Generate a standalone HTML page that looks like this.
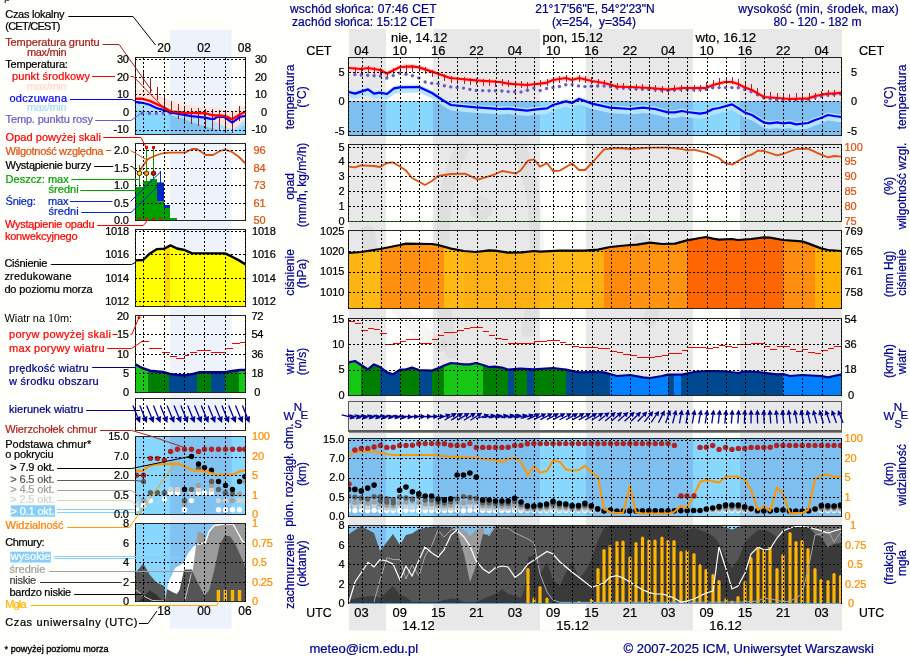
<!DOCTYPE html>
<html lang="pl"><head><meta charset="utf-8"><title>Meteogram ICM</title>
<style>html,body{margin:0;padding:0;background:#FEFEFA;overflow:hidden}svg{display:block}text{font-family:"Liberation Sans", sans-serif;}</style></head><body>
<svg width="910" height="660" viewBox="0 0 910 660">
<rect x="0" y="0" width="910" height="660" fill="#FEFEFA" />
<rect x="170" y="30" width="61.6" height="598.6" fill="#EEF3FB" />
<clipPath id="sT"><rect x="135" y="57.6" width="110.6" height="76.4"/></clipPath>
<g clip-path="url(#sT)">
<polygon points="135,100.9 142.5,101.8 149.8,103.8 156.4,107 163.6,109 170.6,111.4 177.5,112.7 191.5,115.2 198.5,115.9 205.5,116.6 210.5,117.9 214.4,117.9 217.7,115.6 223.7,115.9 227.6,118.3 232.2,121.6 240.6,115.6 246,115 246,124 240.6,127.2 232.2,132.5 226.6,131.2 219.4,129.8 212.5,128.5 205.5,126.5 198.5,124.6 191.5,122 184.5,119.3 177.5,117.3 170.6,115.3 163.6,114 156.4,113.3 150,112 142.5,110 135,108" fill="#AEE2FF" />
<clipPath id="sTb"><polygon points="135,108 142.5,110 150,112 156.4,113.3 163.6,114 170.6,115.3 177.5,117.3 184.5,119.3 191.5,122 198.5,124.6 205.5,126.5 212.5,128.5 219.4,129.8 226.6,131.2 232.2,132.5 240.6,127.2 246,124 245.6,134 135,134"/></clipPath>
<g clip-path="url(#sTb)">
<rect x="135" y="57.6" width="110.6" height="76.4" fill="#87D7FF" />
<rect x="170" y="57.6" width="61.6" height="76.4" fill="#80C3F0" />
</g>
<polygon points="135,88.3 142.5,90.3 149.8,93.6 163.6,97.5 177.5,102.8 191.5,105.4 212.5,108 226.6,110 232.2,110.7 240.6,106.7 246,105.4 246,118 238,125.9 232.2,129.2 226.6,127.2 219.4,123.2 205.5,118 184.5,113.5 163.6,108 135,100" fill="#FFE4DC" />
<line x1="141" y1="113.3" x2="173" y2="113.3" stroke="#6A5ACD" stroke-width="3" stroke-dasharray="3 3.9"/>
<g stroke="#A01818" stroke-width="1" shape-rendering="crispEdges">
<line x1="143.5" y1="70" x2="143.5" y2="85"/>
<line x1="150.5" y1="78" x2="150.5" y2="93"/>
<line x1="157.5" y1="87" x2="157.5" y2="99.5"/>
<line x1="164.5" y1="96" x2="164.5" y2="107.5"/>
<line x1="171.5" y1="101" x2="171.5" y2="114"/>
<line x1="178.5" y1="103.5" x2="178.5" y2="118.5"/>
<line x1="184.5" y1="105.5" x2="184.5" y2="122"/>
<line x1="191.5" y1="107.5" x2="191.5" y2="124"/>
<line x1="198.5" y1="108" x2="198.5" y2="126"/>
<line x1="205.5" y1="108.7" x2="205.5" y2="129"/>
<line x1="212.5" y1="109.4" x2="212.5" y2="130"/>
<line x1="219.5" y1="110" x2="219.5" y2="131"/>
<line x1="225.5" y1="110.7" x2="225.5" y2="133"/>
<line x1="232.5" y1="111.4" x2="232.5" y2="132.7"/>
<line x1="239.5" y1="106" x2="239.5" y2="120.6"/>
</g>
<polyline points="135,101.9 142.5,102.8 149.8,104.8 156.4,108 163.6,110 170.6,112.4 177.5,113.7 191.5,116.2 198.5,116.9 205.5,117.6 210.5,118.9 214.4,118.9 217.7,116.6 223.7,116.9 227.6,119.3 232.2,122.6 240.6,116.6 246,116" fill="none" stroke="#0000FF" stroke-width="2.2" stroke-linejoin="round"/>
<polyline points="135,98.8 142.5,98.8 149.8,100.8 163.6,107.4 170.6,111.4 184.5,112.7 205.5,113.3 212.5,115.3 222.3,115.7 226.6,116.6 232.2,119.3 240.6,114 246,111.6" fill="none" stroke="#FF0000" stroke-width="2.4" stroke-linejoin="round"/>
<g stroke="#000" stroke-width="1" stroke-dasharray="2 2" shape-rendering="crispEdges">
<line x1="143.5" y1="57.6" x2="143.5" y2="134"/>
<line x1="164.5" y1="57.6" x2="164.5" y2="134"/>
<line x1="184.5" y1="57.6" x2="184.5" y2="134"/>
<line x1="204.5" y1="57.6" x2="204.5" y2="134"/>
<line x1="225.5" y1="57.6" x2="225.5" y2="134"/>
<line x1="135" y1="59.5" x2="245.6" y2="59.5"/>
<line x1="135" y1="77.5" x2="245.6" y2="77.5"/>
<line x1="135" y1="94.5" x2="245.6" y2="94.5"/>
<line x1="135" y1="111.5" x2="245.6" y2="111.5"/>
<line x1="135" y1="130.5" x2="245.6" y2="130.5"/>
</g>
</g>
<rect x="135.5" y="57.5" width="110" height="77" fill="none" stroke="#262626" stroke-width="1" shape-rendering="crispEdges"/>
<g stroke="#000" stroke-width="1" stroke-dasharray="2 2" shape-rendering="crispEdges">
<line x1="135.5" y1="57.5" x2="135.5" y2="134.5"/>
<line x1="245.5" y1="57.5" x2="245.5" y2="134.5"/>
</g>
<clipPath id="sP"><rect x="135" y="143.6" width="110.6" height="76.4"/></clipPath>
<g clip-path="url(#sP)">
<rect x="136" y="187" width="7" height="33" fill="#00A000" />
<rect x="143" y="181" width="7" height="39" fill="#00A000" />
<rect x="150" y="179" width="7" height="41" fill="#00A000" />
<rect x="157" y="201.6" width="7" height="18.4" fill="#00A000" />
<rect x="157" y="182.4" width="7" height="19.2" fill="#0028C8" />
<rect x="164" y="208" width="6" height="12" fill="#00A000" />
<rect x="164" y="205" width="6" height="3" fill="#0028C8" />
<rect x="170" y="218" width="7" height="2" fill="#00A000" />
<g shape-rendering="crispEdges">
<line x1="139.5" y1="165" x2="139.5" y2="187" stroke="#00A000" stroke-width="1" />
<line x1="146.5" y1="148" x2="146.5" y2="181" stroke="#00A000" stroke-width="1" />
<line x1="153.5" y1="148" x2="153.5" y2="179" stroke="#00A000" stroke-width="1" />
<line x1="160.5" y1="171" x2="160.5" y2="183" stroke="#0028C8" stroke-width="1" />
</g>
<polyline points="139,172 143,166 147,160 150,158 157,155 164,153 171,152.6 185,152.6 192,149 197,149 206,155 213,155 220,151 225,149.6 232,152 239,157 246,164" fill="none" stroke="#E0500F" stroke-width="1.8" stroke-linejoin="round"/>
<rect x="145" y="146" width="3" height="3" fill="#FF0000" />
<rect x="152" y="146" width="3" height="3" fill="#FF0000" />
<circle cx="139.5" cy="173.3" r="2.3" fill="#FFE600" stroke="#3C1E00" stroke-width="0.9"/>
<circle cx="146.5" cy="173.3" r="2.3" fill="#FFA000" stroke="#3C1E00" stroke-width="0.9"/>
<circle cx="153.5" cy="173.3" r="2.3" fill="#E60000" stroke="#3C1E00" stroke-width="0.9"/>
<line x1="138" y1="218.6" x2="164" y2="218.6" stroke="#FF0000" stroke-width="1.6" stroke-dasharray="3 4"/>
<g stroke="#000" stroke-width="1" stroke-dasharray="2 2" shape-rendering="crispEdges">
<line x1="143.5" y1="143.6" x2="143.5" y2="220"/>
<line x1="164.5" y1="143.6" x2="164.5" y2="220"/>
<line x1="184.5" y1="143.6" x2="184.5" y2="220"/>
<line x1="204.5" y1="143.6" x2="204.5" y2="220"/>
<line x1="225.5" y1="143.6" x2="225.5" y2="220"/>
<line x1="135" y1="150.5" x2="245.6" y2="150.5"/>
<line x1="135" y1="168.5" x2="245.6" y2="168.5"/>
<line x1="135" y1="185.5" x2="245.6" y2="185.5"/>
<line x1="135" y1="203.5" x2="245.6" y2="203.5"/>
</g>
</g>
<rect x="135.5" y="143.5" width="110" height="77" fill="none" stroke="#262626" stroke-width="1" shape-rendering="crispEdges"/>
<g stroke="#000" stroke-width="1" stroke-dasharray="2 2" shape-rendering="crispEdges">
<line x1="135.5" y1="143.5" x2="135.5" y2="220.5"/>
<line x1="245.5" y1="143.5" x2="245.5" y2="220.5"/>
</g>
<clipPath id="sQ"><rect x="135" y="229.4" width="110.6" height="76.6"/></clipPath>
<g clip-path="url(#sQ)">
<polygon points="135,306 135,260.4 143,260 150,253.4 157,249.1 164,248.7 164.5,248.4 164.5,306" fill="#FFFF00" />
<polygon points="164.5,306 164.5,248.4 170,245.7 170,306" fill="#FFD700" />
<polygon points="170,306 170,245.7 170.5,245.4 177,248.5 184.5,250 191.5,253.1 225,253.4 232,256.7 239,260.4 246,264.6 246,306" fill="#FFFF00" />
<polyline points="135,260.4 143,260 150,253.4 157,249.1 164,248.7 170.5,245.4 177,248.5 184.5,250 191.5,253.1 225,253.4 232,256.7 239,260.4 246,264.6" fill="none" stroke="#000" stroke-width="2.4" stroke-linejoin="round"/>
<g stroke="#000" stroke-width="1" stroke-dasharray="2 2" shape-rendering="crispEdges">
<line x1="143.5" y1="229.4" x2="143.5" y2="306"/>
<line x1="164.5" y1="229.4" x2="164.5" y2="306"/>
<line x1="184.5" y1="229.4" x2="184.5" y2="306"/>
<line x1="204.5" y1="229.4" x2="204.5" y2="306"/>
<line x1="225.5" y1="229.4" x2="225.5" y2="306"/>
<line x1="135" y1="231.5" x2="245.6" y2="231.5"/>
<line x1="135" y1="254.5" x2="245.6" y2="254.5"/>
<line x1="135" y1="278.5" x2="245.6" y2="278.5"/>
<line x1="135" y1="301.5" x2="245.6" y2="301.5"/>
</g>
</g>
<rect x="135.5" y="229.5" width="110" height="77" fill="none" stroke="#262626" stroke-width="1" shape-rendering="crispEdges"/>
<g stroke="#000" stroke-width="1" stroke-dasharray="2 2" shape-rendering="crispEdges">
<line x1="135.5" y1="229.5" x2="135.5" y2="306.5"/>
<line x1="245.5" y1="229.5" x2="245.5" y2="306.5"/>
</g>
<clipPath id="sW"><rect x="135" y="315.6" width="110.6" height="76.4"/></clipPath>
<g clip-path="url(#sW)">
<polygon points="135,392 135,364 142,368 147.5,369.9 147.5,392" fill="#14C814" />
<polygon points="147.5,392 147.5,369.9 150,370.7 163,372 169,373.7 169,392" fill="#008000" />
<polygon points="169,392 169,373.7 170,374 180,375.3 186,375.3 193,374 197,372.9 197,392" fill="#004890" />
<polygon points="197,392 197,372.9 199,372.3 211,372.3 211,392" fill="#008000" />
<polygon points="211,392 211,372.3 225,372.3 225,392" fill="#004890" />
<polygon points="225,392 225,372.3 232,371 239,370.1 239,392" fill="#008000" />
<polygon points="239,392 239,370.1 240,370 246,370 246,392" fill="#14C814" />
<polyline points="135,364 142,368 150,370.7 163,372 170,374 180,375.3 186,375.3 193,374 199,372.3 225,372.3 232,371 240,370 246,370" fill="none" stroke="#000090" stroke-width="2.4" stroke-linejoin="round"/>
<g stroke="#FF0000" stroke-width="1" shape-rendering="crispEdges">
<line x1="141.2" y1="341.5" x2="148.5" y2="341.5"/>
<line x1="148.5" y1="348.5" x2="155" y2="348.5"/>
<line x1="155" y1="348.5" x2="161.7" y2="348.5"/>
<line x1="162.3" y1="352.5" x2="169.6" y2="352.5"/>
<line x1="170" y1="356.5" x2="176.8" y2="356.5"/>
<line x1="176.2" y1="358.5" x2="184.5" y2="358.5"/>
<line x1="184.5" y1="355.5" x2="188.7" y2="355.5"/>
<line x1="190" y1="352.5" x2="197.3" y2="352.5"/>
<line x1="197.3" y1="350.5" x2="211" y2="350.5"/>
<line x1="211" y1="352.5" x2="225.3" y2="352.5"/>
<line x1="225.6" y1="348.5" x2="232.6" y2="348.5"/>
<line x1="232.2" y1="343.5" x2="239.5" y2="343.5"/>
<line x1="239.5" y1="342.5" x2="246" y2="342.5"/>
</g>
<circle cx="139" cy="317.5" r="1.5" fill="#FF0000"/>
<g stroke="#000" stroke-width="1" stroke-dasharray="2 2" shape-rendering="crispEdges">
<line x1="143.5" y1="315.6" x2="143.5" y2="392"/>
<line x1="164.5" y1="315.6" x2="164.5" y2="392"/>
<line x1="184.5" y1="315.6" x2="184.5" y2="392"/>
<line x1="204.5" y1="315.6" x2="204.5" y2="392"/>
<line x1="225.5" y1="315.6" x2="225.5" y2="392"/>
<line x1="135" y1="334.5" x2="245.6" y2="334.5"/>
<line x1="135" y1="354.5" x2="245.6" y2="354.5"/>
<line x1="135" y1="373.5" x2="245.6" y2="373.5"/>
</g>
</g>
<rect x="135.5" y="315.5" width="110" height="77" fill="none" stroke="#262626" stroke-width="1" shape-rendering="crispEdges"/>
<g stroke="#000" stroke-width="1" stroke-dasharray="2 2" shape-rendering="crispEdges">
<line x1="135.5" y1="315.5" x2="135.5" y2="392.5"/>
<line x1="245.5" y1="315.5" x2="245.5" y2="392.5"/>
</g>
<g stroke="#000" stroke-width="1" stroke-dasharray="2 2" shape-rendering="crispEdges">
<line x1="143.5" y1="398.6" x2="143.5" y2="430"/>
<line x1="164.5" y1="398.6" x2="164.5" y2="430"/>
<line x1="184.5" y1="398.6" x2="184.5" y2="430"/>
<line x1="204.5" y1="398.6" x2="204.5" y2="430"/>
<line x1="225.5" y1="398.6" x2="225.5" y2="430"/>
</g>
<rect x="135.5" y="398.5" width="110" height="32" fill="none" stroke="#262626" stroke-width="1" shape-rendering="crispEdges"/>
<g stroke="#000" stroke-width="1" stroke-dasharray="2 2" shape-rendering="crispEdges">
<line x1="135.5" y1="398.5" x2="135.5" y2="430.5"/>
<line x1="245.5" y1="398.5" x2="245.5" y2="430.5"/>
</g>
<g stroke="#000099" stroke-width="1.3" fill="#000099">
<path d="M132.9 405.5L137.6 417.1" fill="none"/>
<path d="M140.1 423.1L134.7 418.3L140.6 415.9Z" stroke="none"/>
<path d="M139.8 405.5L144.5 417.1" fill="none"/>
<path d="M146.9 423.1L141.5 418.3L147.4 415.9Z" stroke="none"/>
<path d="M146.6 405.5L151.3 417.1" fill="none"/>
<path d="M153.7 423.1L148.3 418.3L154.3 415.9Z" stroke="none"/>
<path d="M153.5 405.5L158.1 417.1" fill="none"/>
<path d="M160.6 423.1L155.2 418.3L161.1 415.9Z" stroke="none"/>
<path d="M160.3 405.5L165 417.1" fill="none"/>
<path d="M167.4 423.1L162 418.3L168 415.9Z" stroke="none"/>
<path d="M167.1 405.5L171.8 417.1" fill="none"/>
<path d="M174.3 423.1L168.9 418.3L174.8 415.9Z" stroke="none"/>
<path d="M174 405.5L178.7 417.1" fill="none"/>
<path d="M181.1 423.1L175.7 418.3L181.6 415.9Z" stroke="none"/>
<path d="M180.8 405.5L185.5 417.1" fill="none"/>
<path d="M187.9 423.1L182.5 418.3L188.5 415.9Z" stroke="none"/>
<path d="M187.7 405.5L192.3 417.1" fill="none"/>
<path d="M194.8 423.1L189.4 418.3L195.3 415.9Z" stroke="none"/>
<path d="M194.5 405.5L199.2 417.1" fill="none"/>
<path d="M201.6 423.1L196.2 418.3L202.2 415.9Z" stroke="none"/>
<path d="M201.3 405.5L206 417.1" fill="none"/>
<path d="M208.5 423.1L203.1 418.3L209 415.9Z" stroke="none"/>
<path d="M208.2 405.5L212.9 417.1" fill="none"/>
<path d="M215.3 423.1L209.9 418.3L215.8 415.9Z" stroke="none"/>
<path d="M215 405.5L219.7 417.1" fill="none"/>
<path d="M222.1 423.1L216.7 418.3L222.7 415.9Z" stroke="none"/>
<path d="M221.9 405.5L226.5 417.1" fill="none"/>
<path d="M229 423.1L223.6 418.3L229.5 415.9Z" stroke="none"/>
<path d="M228.7 405.5L233.4 417.1" fill="none"/>
<path d="M235.8 423.1L230.4 418.3L236.4 415.9Z" stroke="none"/>
<path d="M235.5 405.5L240.2 417.1" fill="none"/>
<path d="M242.7 423.1L237.3 418.3L243.2 415.9Z" stroke="none"/>
<path d="M242.4 405.5L247.1 417.1" fill="none"/>
<path d="M249.5 423.1L244.1 418.3L250 415.9Z" stroke="none"/>
</g>
<clipPath id="sB"><rect x="135" y="436.6" width="110.6" height="77.4"/></clipPath>
<g clip-path="url(#sB)">
<rect x="135" y="436.6" width="110.6" height="77.4" fill="#87D7FF" />
<rect x="170" y="436.6" width="61.6" height="77.4" fill="#80C3F0" />
<circle cx="150.4" cy="500.6" r="2.7" fill="#FFFFFF"/>
<circle cx="164.4" cy="499.3" r="2.7" fill="#FFFFFF"/>
<circle cx="170.6" cy="492.7" r="2.7" fill="#FFFFFF"/>
<circle cx="177.5" cy="492.7" r="2.7" fill="#FFFFFF"/>
<circle cx="191.5" cy="500.6" r="2.7" fill="#FFFFFF"/>
<circle cx="198.5" cy="492.7" r="2.7" fill="#FFFFFF"/>
<circle cx="204.5" cy="492.7" r="2.7" fill="#FFFFFF"/>
<circle cx="211.5" cy="492.7" r="2.7" fill="#FFFFFF"/>
<circle cx="143.5" cy="505.2" r="2.7" fill="#FFFFFF"/>
<circle cx="136.5" cy="508.5" r="2.7" fill="#FFFFFF"/>
<circle cx="184.5" cy="509.8" r="2.7" fill="#FFFFFF"/>
<circle cx="218.5" cy="509.8" r="2.7" fill="#FFFFFF"/>
<circle cx="225.5" cy="509.8" r="2.7" fill="#FFFFFF"/>
<circle cx="232.5" cy="509.8" r="2.7" fill="#FFFFFF"/>
<circle cx="239.5" cy="509.8" r="2.7" fill="#FFFFFF"/>
<circle cx="170.6" cy="489.4" r="2.7" fill="#D8D2CA"/>
<circle cx="177.5" cy="489.4" r="2.7" fill="#D8D2CA"/>
<circle cx="198.5" cy="489.4" r="2.7" fill="#D8D2CA"/>
<circle cx="211.5" cy="489.4" r="2.7" fill="#D8D2CA"/>
<circle cx="191.5" cy="492" r="2.7" fill="#D8D2CA"/>
<circle cx="136.5" cy="505.2" r="2.7" fill="#D8D2CA"/>
<circle cx="218.5" cy="500.6" r="2.7" fill="#D8D2CA"/>
<circle cx="225.5" cy="500.6" r="2.7" fill="#D8D2CA"/>
<circle cx="239.5" cy="500.6" r="2.7" fill="#D8D2CA"/>
<circle cx="244.8" cy="500.6" r="2.7" fill="#D8D2CA"/>
<circle cx="198.5" cy="485.4" r="2.7" fill="#A0A0A0"/>
<circle cx="211.5" cy="485.4" r="2.7" fill="#A0A0A0"/>
<circle cx="239.5" cy="494" r="2.7" fill="#A0A0A0"/>
<circle cx="184.5" cy="503.9" r="2.7" fill="#A0A0A0"/>
<circle cx="244.8" cy="481.5" r="2.7" fill="#A0A0A0"/>
<circle cx="232.5" cy="500.6" r="2.7" fill="#A0A0A0"/>
<circle cx="143.5" cy="500.6" r="2.7" fill="#A0A0A0"/>
<circle cx="143.5" cy="481.5" r="2.7" fill="#5F5F5F"/>
<circle cx="150.4" cy="492.7" r="2.7" fill="#5F5F5F"/>
<circle cx="157.4" cy="492.7" r="2.7" fill="#5F5F5F"/>
<circle cx="164.4" cy="492.7" r="2.7" fill="#5F5F5F"/>
<circle cx="191.5" cy="489.4" r="2.7" fill="#5F5F5F"/>
<circle cx="198.5" cy="468.3" r="2.7" fill="#5F5F5F"/>
<circle cx="211.5" cy="481.5" r="2.7" fill="#5F5F5F"/>
<circle cx="218.5" cy="489.4" r="2.7" fill="#5F5F5F"/>
<circle cx="225.5" cy="492.7" r="2.7" fill="#5F5F5F"/>
<circle cx="232.5" cy="494" r="2.7" fill="#5F5F5F"/>
<circle cx="184.5" cy="500.6" r="2.7" fill="#5F5F5F"/>
<circle cx="191.5" cy="456.4" r="2.7" fill="#000000"/>
<circle cx="198.5" cy="464" r="2.7" fill="#000000"/>
<circle cx="204.5" cy="467.6" r="2.7" fill="#000000"/>
<circle cx="211.5" cy="470.3" r="2.7" fill="#000000"/>
<circle cx="218.5" cy="481.5" r="2.7" fill="#000000"/>
<circle cx="225.5" cy="485.4" r="2.7" fill="#000000"/>
<circle cx="232.5" cy="489.4" r="2.7" fill="#000000"/>
<circle cx="239.5" cy="481.5" r="2.7" fill="#000000"/>
<circle cx="244.8" cy="476.6" r="2.7" fill="#000000"/>
<circle cx="184.5" cy="489.4" r="2.7" fill="#000000"/>
<polyline points="135,470.9 142.5,470.9 148.5,466.3 156.4,464.3 178.8,463.7 185.4,467 193.3,470.3 203.9,470.9 215.8,474.5 232.9,474.5 239.5,471.6 246,470.3" fill="none" stroke="#FF9600" stroke-width="2.2" stroke-linejoin="round"/>
<circle cx="136.5" cy="475.3" r="2.7" fill="#B22222"/>
<circle cx="143.5" cy="475.3" r="2.7" fill="#B22222"/>
<circle cx="150.4" cy="458.4" r="2.7" fill="#B22222"/>
<circle cx="157.4" cy="458.4" r="2.7" fill="#B22222"/>
<circle cx="164.4" cy="460.1" r="2.7" fill="#B22222"/>
<circle cx="170.6" cy="451.5" r="2.7" fill="#B22222"/>
<circle cx="177.5" cy="449.2" r="2.7" fill="#B22222"/>
<circle cx="184.5" cy="449.2" r="2.7" fill="#B22222"/>
<circle cx="191.5" cy="449.2" r="2.7" fill="#B22222"/>
<circle cx="198.5" cy="451.5" r="2.7" fill="#B22222"/>
<circle cx="204.5" cy="449.2" r="2.7" fill="#B22222"/>
<circle cx="211.5" cy="449.2" r="2.7" fill="#B22222"/>
<circle cx="218.5" cy="449.2" r="2.7" fill="#B22222"/>
<circle cx="225.5" cy="449.2" r="2.7" fill="#B22222"/>
<circle cx="232.5" cy="449.2" r="2.7" fill="#B22222"/>
<circle cx="239.5" cy="449.2" r="2.7" fill="#B22222"/>
<circle cx="244.8" cy="449.2" r="2.7" fill="#B22222"/>
<g stroke="#000" stroke-width="1" stroke-dasharray="2 2" shape-rendering="crispEdges">
<line x1="143.5" y1="436.6" x2="143.5" y2="514"/>
<line x1="164.5" y1="436.6" x2="164.5" y2="514"/>
<line x1="184.5" y1="436.6" x2="184.5" y2="514"/>
<line x1="204.5" y1="436.6" x2="204.5" y2="514"/>
<line x1="225.5" y1="436.6" x2="225.5" y2="514"/>
<line x1="135" y1="457.5" x2="245.6" y2="457.5"/>
<line x1="135" y1="475.5" x2="245.6" y2="475.5"/>
<line x1="135" y1="495.5" x2="245.6" y2="495.5"/>
</g>
</g>
<rect x="135.5" y="436.5" width="110" height="78" fill="none" stroke="#262626" stroke-width="1" shape-rendering="crispEdges"/>
<g stroke="#000" stroke-width="1" stroke-dasharray="2 2" shape-rendering="crispEdges">
<line x1="135.5" y1="436.5" x2="135.5" y2="514.5"/>
<line x1="245.5" y1="436.5" x2="245.5" y2="514.5"/>
</g>
<clipPath id="sC"><rect x="135" y="523.4" width="110.6" height="78"/></clipPath>
<g clip-path="url(#sC)">
<rect x="135" y="523.4" width="110.6" height="78" fill="#87D7FF" />
<rect x="170" y="523.4" width="61.6" height="78" fill="#80C3F0" />
<polygon points="165,600 168.3,582.6 175,568 182.8,563.5 188,553.6 193.3,546.4 197.3,544.4 205.2,543 209.2,531.2 214.4,525.3 225,524 233,524 237,531.2 242,540.4 246,544 246,601.4 165,601.4" fill="#FFFFFF" />
<polygon points="192.7,571 194.6,556.3 196,545.7 197.9,531.2 204,533.8 205.9,542.4 209.2,531.8 214.4,526 225,524 246,524 246,601.4 192.7,601.4" fill="#9B9B9B" />
<polygon points="165,601.4 167,589 172.2,592 176.8,594 179.5,590 184.1,569.5 192,569.5 193.3,573.4 198.6,584 204.5,595.8 209.2,590 214.4,569.5 219.7,544.4 225,535.2 230.3,536.5 235.5,544.4 240.8,556.3 246,568.5 246,601.4" fill="#555555" />
<polygon points="135,601.4 135,573.4 143.2,563.5 149.8,574.7 156.4,582.6 164.3,586 165.6,601.4" fill="#555555" />
<polygon points="138,601.4 149.8,590.6 156.4,594.5 163,601.4" fill="#333333" />
<polyline points="135,589.2 143.2,595.8 152.4,600.5 164,601" fill="none" stroke="#C8C8C8" stroke-width="1" />
<polyline points="184.7,601 191.3,573.4" fill="none" stroke="#C8C8C8" stroke-width="1" />
<polyline points="197.3,544.4 205.2,543 209.2,531.2 214.4,525.3 225,524 233,524 237,531.2 242,540.4 246,544" fill="none" stroke="#FFFFFF" stroke-width="1.3" />
<rect x="216.7" y="590" width="3.4" height="12.4" fill="#FFB400" />
<rect x="223.6" y="590" width="3.4" height="12.4" fill="#FFB400" />
<rect x="230.8" y="590" width="3.4" height="12.4" fill="#FFB400" />
<rect x="237.8" y="590" width="3.4" height="12.4" fill="#FFB400" />
<g stroke="#000" stroke-width="1" stroke-dasharray="2 2" shape-rendering="crispEdges">
<line x1="143.5" y1="523.4" x2="143.5" y2="601.4"/>
<line x1="164.5" y1="523.4" x2="164.5" y2="601.4"/>
<line x1="184.5" y1="523.4" x2="184.5" y2="601.4"/>
<line x1="204.5" y1="523.4" x2="204.5" y2="601.4"/>
<line x1="225.5" y1="523.4" x2="225.5" y2="601.4"/>
<line x1="135" y1="543.5" x2="245.6" y2="543.5"/>
<line x1="135" y1="562.5" x2="245.6" y2="562.5"/>
<line x1="135" y1="582.5" x2="245.6" y2="582.5"/>
</g>
</g>
<rect x="135.5" y="523.5" width="110" height="78" fill="none" stroke="#262626" stroke-width="1" shape-rendering="crispEdges"/>
<g stroke="#000" stroke-width="1" stroke-dasharray="2 2" shape-rendering="crispEdges">
<line x1="135.5" y1="523.5" x2="135.5" y2="601.5"/>
<line x1="245.5" y1="523.5" x2="245.5" y2="601.5"/>
</g>
<rect x="349" y="29" width="493" height="601.5" fill="#E8E8E8" />
<rect x="386" y="29" width="47" height="601.5" fill="#FEFEFA" />
<rect x="540" y="29" width="46" height="601.5" fill="#FEFEFA" />
<rect x="693" y="29" width="47" height="601.5" fill="#FEFEFA" />
<g fill="none" stroke="#000" stroke-opacity="0.035" stroke-width="14" stroke-linecap="round"><path d="M462 150 C 436 190 438 300 452 352"/><path d="M520 150 C 542 200 540 280 528 330"/><path d="M368 232 C 372 280 400 320 440 345"/><circle cx="481" cy="208" r="5"/><path d="M640 240 C 655 250 660 290 650 320"/></g>
<clipPath id="cT"><rect x="348.5" y="57" width="493" height="78"/></clipPath>
<g clip-path="url(#cT)">
<rect x="348.5" y="101" width="493" height="34" fill="#7DBFEE" />
<rect x="386" y="101" width="47" height="34" fill="#87D7FF" />
<rect x="540" y="101" width="46" height="34" fill="#87D7FF" />
<rect x="693" y="101" width="47" height="34" fill="#87D7FF" />
<polygon points="349,65.5 361,66.5 368,65.5 380,67.5 387,71.1 400,64.5 412,63.9 419,64.9 438,71.1 450,75.5 476,77.9 500,79.5 508,81.1 527,82.5 540,81.1 547,80.1 553,77.5 566,75.5 572,77.5 579,75.5 592,78.5 604,80.5 617,84.1 630,84.5 650,85.5 668,87.1 682,85.5 706,85.5 713,82.5 725,79.5 732,79.5 738,81.5 745,85.1 752,87.5 764,94.5 777,95.5 790,96.5 802,96.1 808,96.1 815,93.5 828,91.1 834,91.1 841.5,90.1 841.5,95.1 834,96.1 828,96.1 815,98.5 808,101.1 802,101.1 790,101.5 777,100.5 764,99.5 752,92.5 745,90.1 738,86.5 732,84.5 725,84.5 713,87.5 706,90.5 682,90.5 668,92.1 650,90.5 630,89.5 617,89.1 604,85.5 592,83.5 579,80.5 572,82.5 566,80.5 553,82.5 547,85.1 540,86.1 527,87.5 508,86.1 500,84.5 476,82.9 450,80.5 438,76.1 419,69.9 412,68.9 400,69.5 387,76.1 380,72.5 368,70.5 361,71.5 349,70.5" fill="#FFD2D2" />
<polygon points="349,89.5 355,91.1 368,86.9 374,91.1 380,90.1 387,91.5 394,85.9 400,84.9 419,84.5 432,90.5 444,98.5 451,102.5 476,104.9 495,106.1 500,106.5 508,106.1 527,108.1 534,107.1 547,105.9 553,102.5 566,98.9 572,100.5 579,96.5 592,101.1 610,105.1 630,106.5 643,105.1 655,106.5 668,109.9 675,109.9 682,108.5 687,109.5 700,111.1 706,110.1 713,106.5 719,105.5 732,101.9 738,105.5 745,110.1 752,112.5 764,120.1 770,120.9 777,119.9 783,120.9 790,120.1 796,121.9 808,120.5 815,117.5 821,115.5 828,112.5 834,113.5 841.5,114.5 841.5,122.5 834,121.5 828,120.5 821,123.5 815,125.5 808,128.5 796,129.9 790,128.1 783,128.9 777,127.9 770,128.9 764,128.1 752,120.5 745,118.1 738,113.5 732,109.9 719,113.5 713,114.5 706,118.1 700,119.1 687,117.5 682,116.5 675,117.9 668,117.9 655,114.5 643,113.1 630,114.5 610,113.1 592,109.1 579,104.5 572,108.5 566,106.9 553,110.5 547,113.9 534,115.1 527,116.1 508,114.1 500,114.5 495,114.1 476,112.9 451,110.5 444,106.5 432,98.5 419,92.5 400,92.9 394,93.9 387,99.5 380,98.1 374,99.1 368,94.9 355,99.1 349,97.5" fill="#B4E4FF" />
<g stroke="#C81428" stroke-width="1" shape-rendering="crispEdges">
<line x1="355.5" y1="66.5" x2="355.5" y2="73.5"/>
<line x1="361.5" y1="67" x2="361.5" y2="74"/>
<line x1="368.5" y1="66" x2="368.5" y2="73"/>
<line x1="374.5" y1="67" x2="374.5" y2="74"/>
<line x1="380.5" y1="68.2" x2="380.5" y2="75.2"/>
<line x1="387.5" y1="71.5" x2="387.5" y2="78.5"/>
<line x1="393.5" y1="68.4" x2="393.5" y2="75.4"/>
<line x1="400.5" y1="65.2" x2="400.5" y2="72.2"/>
<line x1="406.5" y1="64.7" x2="406.5" y2="71.7"/>
<line x1="412.5" y1="64.5" x2="412.5" y2="71.5"/>
<line x1="419.5" y1="65.4" x2="419.5" y2="72.4"/>
<line x1="425.5" y1="67.4" x2="425.5" y2="74.4"/>
<line x1="432.5" y1="69.5" x2="432.5" y2="76.5"/>
<line x1="438.5" y1="71.6" x2="438.5" y2="78.6"/>
<line x1="444.5" y1="73.9" x2="444.5" y2="80.9"/>
<line x1="451.5" y1="76.1" x2="451.5" y2="83.1"/>
<line x1="457.5" y1="76.7" x2="457.5" y2="83.7"/>
<line x1="464.5" y1="77.2" x2="464.5" y2="84.2"/>
<line x1="470.5" y1="77.8" x2="470.5" y2="84.8"/>
<line x1="476.5" y1="78.4" x2="476.5" y2="85.4"/>
<line x1="483.5" y1="78.8" x2="483.5" y2="85.8"/>
<line x1="489.5" y1="79.3" x2="489.5" y2="86.3"/>
<line x1="495.5" y1="79.7" x2="495.5" y2="86.7"/>
<line x1="502.5" y1="78.9" x2="502.5" y2="85.9"/>
<line x1="508.5" y1="80.1" x2="508.5" y2="87.1"/>
<line x1="515.5" y1="80.6" x2="515.5" y2="87.6"/>
<line x1="521.5" y1="81.1" x2="521.5" y2="88.1"/>
<line x1="527.5" y1="81.5" x2="527.5" y2="88.5"/>
<line x1="534.5" y1="80.8" x2="534.5" y2="87.8"/>
<line x1="540.5" y1="80.1" x2="540.5" y2="87.1"/>
<line x1="547.5" y1="79.2" x2="547.5" y2="86.2"/>
<line x1="553.5" y1="76.5" x2="553.5" y2="83.5"/>
<line x1="559.5" y1="75.5" x2="559.5" y2="82.5"/>
<line x1="566.5" y1="74.5" x2="566.5" y2="81.5"/>
<line x1="572.5" y1="76.5" x2="572.5" y2="83.5"/>
<line x1="579.5" y1="74.6" x2="579.5" y2="81.6"/>
<line x1="585.5" y1="75.9" x2="585.5" y2="82.9"/>
<line x1="591.5" y1="77.3" x2="591.5" y2="84.3"/>
<line x1="598.5" y1="78.5" x2="598.5" y2="85.5"/>
<line x1="604.5" y1="79.5" x2="604.5" y2="86.5"/>
<line x1="610.5" y1="81.3" x2="610.5" y2="88.3"/>
<line x1="617.5" y1="83.1" x2="617.5" y2="90.1"/>
<line x1="623.5" y1="83.3" x2="623.5" y2="90.3"/>
<line x1="630.5" y1="83.5" x2="630.5" y2="90.5"/>
<line x1="636.5" y1="83.8" x2="636.5" y2="90.8"/>
<line x1="642.5" y1="84.1" x2="642.5" y2="91.1"/>
<line x1="649.5" y1="84.4" x2="649.5" y2="91.4"/>
<line x1="655.5" y1="85" x2="655.5" y2="92"/>
<line x1="662.5" y1="85.5" x2="662.5" y2="92.5"/>
<line x1="668.5" y1="86.1" x2="668.5" y2="93.1"/>
<line x1="674.5" y1="85.4" x2="674.5" y2="92.4"/>
<line x1="681.5" y1="84.6" x2="681.5" y2="91.6"/>
<line x1="687.5" y1="84.5" x2="687.5" y2="91.5"/>
<line x1="694.5" y1="84.5" x2="694.5" y2="91.5"/>
<line x1="700.5" y1="84.5" x2="700.5" y2="91.5"/>
<line x1="706.5" y1="82.4" x2="706.5" y2="89.9"/>
<line x1="713.5" y1="79.6" x2="713.5" y2="87.1"/>
<line x1="719.5" y1="78" x2="719.5" y2="85.5"/>
<line x1="726.5" y1="76.5" x2="726.5" y2="84"/>
<line x1="732.5" y1="76.5" x2="732.5" y2="84"/>
<line x1="738.5" y1="78.6" x2="738.5" y2="86.1"/>
<line x1="745.5" y1="81.9" x2="745.5" y2="89.4"/>
<line x1="751.5" y1="84.2" x2="751.5" y2="91.7"/>
<line x1="757.5" y1="87.7" x2="757.5" y2="95.2"/>
<line x1="764.5" y1="91.4" x2="764.5" y2="98.9"/>
<line x1="770.5" y1="92" x2="770.5" y2="99.5"/>
<line x1="777.5" y1="92.5" x2="777.5" y2="100"/>
<line x1="783.5" y1="93" x2="783.5" y2="100.5"/>
<line x1="789.5" y1="93.5" x2="789.5" y2="101"/>
<line x1="796.5" y1="93.3" x2="796.5" y2="100.8"/>
<line x1="802.5" y1="93.1" x2="802.5" y2="100.6"/>
<line x1="809.5" y1="92.9" x2="809.5" y2="100.4"/>
<line x1="815.5" y1="92.5" x2="815.5" y2="99.5"/>
<line x1="821.5" y1="91.3" x2="821.5" y2="98.3"/>
<line x1="828.5" y1="90.1" x2="828.5" y2="97.1"/>
<line x1="834.5" y1="90.1" x2="834.5" y2="97.1"/>
<line x1="841.5" y1="89.2" x2="841.5" y2="96.2"/>
</g>
<g fill="#6A5ACD">
<circle cx="354.9" cy="74.6" r="1.7"/>
<circle cx="361.3" cy="75" r="1.7"/>
<circle cx="367.7" cy="75.3" r="1.7"/>
<circle cx="374.1" cy="75.7" r="1.7"/>
<circle cx="380.4" cy="76.1" r="1.7"/>
<circle cx="386.8" cy="78" r="1.7"/>
<circle cx="393.2" cy="75.6" r="1.7"/>
<circle cx="399.6" cy="73.1" r="1.7"/>
<circle cx="406" cy="74.3" r="1.7"/>
<circle cx="412.4" cy="75.7" r="1.7"/>
<circle cx="418.8" cy="77.9" r="1.7"/>
<circle cx="425.2" cy="82" r="1.7"/>
<circle cx="431.6" cy="83.3" r="1.7"/>
<circle cx="438" cy="83.6" r="1.7"/>
<circle cx="444.4" cy="85.7" r="1.7"/>
<circle cx="450.7" cy="86.9" r="1.7"/>
<circle cx="457.1" cy="87.6" r="1.7"/>
<circle cx="463.5" cy="88.1" r="1.7"/>
<circle cx="469.9" cy="89.4" r="1.7"/>
<circle cx="476.3" cy="90.4" r="1.7"/>
<circle cx="482.7" cy="90.6" r="1.7"/>
<circle cx="489.1" cy="90.7" r="1.7"/>
<circle cx="495.5" cy="90.8" r="1.7"/>
<circle cx="501.9" cy="91" r="1.7"/>
<circle cx="508.2" cy="91.6" r="1.7"/>
<circle cx="514.6" cy="91.8" r="1.7"/>
<circle cx="521" cy="92" r="1.7"/>
<circle cx="527.4" cy="90.2" r="1.7"/>
<circle cx="533.8" cy="88.1" r="1.7"/>
<circle cx="540.2" cy="90.5" r="1.7"/>
<circle cx="546.6" cy="88.5" r="1.7"/>
<circle cx="553" cy="87.6" r="1.7"/>
<circle cx="559.4" cy="86.5" r="1.7"/>
<circle cx="565.8" cy="84.7" r="1.7"/>
<circle cx="572.1" cy="84.6" r="1.7"/>
<circle cx="578.5" cy="85.9" r="1.7"/>
<circle cx="584.9" cy="86.6" r="1.7"/>
<circle cx="591.3" cy="86.3" r="1.7"/>
<circle cx="597.7" cy="86" r="1.7"/>
<circle cx="604.1" cy="86" r="1.7"/>
<circle cx="610.5" cy="86.8" r="1.7"/>
<circle cx="616.9" cy="87.6" r="1.7"/>
<circle cx="623.3" cy="88" r="1.7"/>
<circle cx="629.7" cy="88.5" r="1.7"/>
<circle cx="636" cy="88.8" r="1.7"/>
<circle cx="642.4" cy="89.1" r="1.7"/>
<circle cx="648.8" cy="89.4" r="1.7"/>
<circle cx="655.2" cy="89.8" r="1.7"/>
<circle cx="661.6" cy="90.2" r="1.7"/>
<circle cx="668" cy="90.6" r="1.7"/>
<circle cx="674.4" cy="90.1" r="1.7"/>
<circle cx="680.8" cy="89.6" r="1.7"/>
<circle cx="687.2" cy="89.5" r="1.7"/>
<circle cx="693.6" cy="89.5" r="1.7"/>
<circle cx="700" cy="89.5" r="1.7"/>
<circle cx="706.3" cy="89.4" r="1.7"/>
<circle cx="712.7" cy="87.7" r="1.7"/>
<circle cx="719.1" cy="87.6" r="1.7"/>
<circle cx="725.5" cy="87.6" r="1.7"/>
<circle cx="731.9" cy="87.6" r="1.7"/>
<circle cx="738.3" cy="87.7" r="1.7"/>
<circle cx="744.7" cy="89.4" r="1.7"/>
<circle cx="751.1" cy="91.7" r="1.7"/>
<circle cx="757.5" cy="94.7" r="1.7"/>
<circle cx="763.8" cy="97.9" r="1.7"/>
<circle cx="770.2" cy="98.7" r="1.7"/>
<circle cx="776.6" cy="99.5" r="1.7"/>
<circle cx="783" cy="99.7" r="1.7"/>
<circle cx="789.4" cy="100" r="1.7"/>
<circle cx="795.8" cy="99.9" r="1.7"/>
<circle cx="802.2" cy="99.7" r="1.7"/>
<circle cx="808.6" cy="99.4" r="1.7"/>
<circle cx="815" cy="97.5" r="1.7"/>
<circle cx="821.4" cy="96.3" r="1.7"/>
<circle cx="827.8" cy="95" r="1.7"/>
<circle cx="834.1" cy="94.5" r="1.7"/>
<circle cx="840.5" cy="94.1" r="1.7"/>
</g>
<polyline points="349,68 361,69 368,68 380,70 387,73.6 400,67 412,66.4 419,67.4 438,73.6 450,78 476,80.4 500,82 508,83.6 527,85 540,83.6 547,82.6 553,80 566,78 572,80 579,78 592,81 604,83 617,86.6 630,87 650,88 668,89.6 682,88 706,88 713,85 725,82 732,82 738,84 745,87.6 752,90 764,97 777,98 790,99 802,98.6 808,98.6 815,96 828,93.6 834,93.6 841.5,92.6" fill="none" stroke="#FF0000" stroke-width="2.2" stroke-linejoin="round"/>
<polyline points="349,92 355,93.6 368,89.4 374,93.6 380,92.6 387,94 394,88.4 400,87.4 419,87 432,93 444,101 451,105 476,107.4 495,108.6 500,109 508,108.6 527,110.6 534,109.6 547,108.4 553,105 566,101.4 572,103 579,99 592,103.6 610,107.6 630,109 643,107.6 655,109 668,112.4 675,112.4 682,111 687,112 700,113.6 706,112.6 713,109 719,108 732,104.4 738,108 745,112.6 752,115 764,122.6 770,123.4 777,122.4 783,123.4 790,122.6 796,124.4 808,123 815,120 821,118 828,115 834,116 841.5,117" fill="none" stroke="#0000FF" stroke-width="2.2" stroke-linejoin="round"/>
<g stroke="#000" stroke-width="1" stroke-dasharray="2 2" shape-rendering="crispEdges">
<line x1="362.5" y1="57" x2="362.5" y2="135"/>
<line x1="381.5" y1="57" x2="381.5" y2="135"/>
<line x1="400.5" y1="57" x2="400.5" y2="135"/>
<line x1="419.5" y1="57" x2="419.5" y2="135"/>
<line x1="438.5" y1="57" x2="438.5" y2="135"/>
<line x1="457.5" y1="57" x2="457.5" y2="135"/>
<line x1="477.5" y1="57" x2="477.5" y2="135"/>
<line x1="496.5" y1="57" x2="496.5" y2="135"/>
<line x1="515.5" y1="57" x2="515.5" y2="135"/>
<line x1="534.5" y1="57" x2="534.5" y2="135"/>
<line x1="553.5" y1="57" x2="553.5" y2="135"/>
<line x1="572.5" y1="57" x2="572.5" y2="135"/>
<line x1="592.5" y1="57" x2="592.5" y2="135"/>
<line x1="611.5" y1="57" x2="611.5" y2="135"/>
<line x1="630.5" y1="57" x2="630.5" y2="135"/>
<line x1="649.5" y1="57" x2="649.5" y2="135"/>
<line x1="668.5" y1="57" x2="668.5" y2="135"/>
<line x1="687.5" y1="57" x2="687.5" y2="135"/>
<line x1="707.5" y1="57" x2="707.5" y2="135"/>
<line x1="726.5" y1="57" x2="726.5" y2="135"/>
<line x1="745.5" y1="57" x2="745.5" y2="135"/>
<line x1="764.5" y1="57" x2="764.5" y2="135"/>
<line x1="783.5" y1="57" x2="783.5" y2="135"/>
<line x1="802.5" y1="57" x2="802.5" y2="135"/>
<line x1="822.5" y1="57" x2="822.5" y2="135"/>
<line x1="348.5" y1="72.5" x2="841.5" y2="72.5"/>
<line x1="348.5" y1="101.5" x2="841.5" y2="101.5"/>
<line x1="348.5" y1="131.5" x2="841.5" y2="131.5"/>
</g>
</g>
<rect x="348.5" y="57.5" width="493" height="78" fill="none" stroke="#262626" stroke-width="1" shape-rendering="crispEdges"/>
<g stroke="#000" stroke-width="1" stroke-dasharray="2 2" shape-rendering="crispEdges">
<line x1="348.5" y1="57.5" x2="348.5" y2="135.5"/>
<line x1="841.5" y1="57.5" x2="841.5" y2="135.5"/>
</g>
<clipPath id="cP"><rect x="348.5" y="144" width="493" height="77.5"/></clipPath>
<g clip-path="url(#cP)">
<polyline points="349,166.6 355,167.4 361,165.4 374,166 380,167 387,163 393,162.4 400,166.6 406,170.6 412,178 425,185 432,181 438,176 451,174 465,173.6 478,179.6 495,174.3 502,171 516,173.5 521,170 528,160.6 534,159.4 540,166.6 547,163 553,171 560,170.6 572,163.4 579,170 585,170 592,163 604,149.4 617,148 630,149 650,147.6 668,147.6 682,149 687,150.4 694,149.6 706,152.6 719,158 725,163 732,164.6 745,157 752,154.4 758,150.6 764,151 777,155.4 783,154 796,149 808,148.6 821,154.6 828,157.4 834,156 841.5,156.6" fill="none" stroke="#E0500F" stroke-width="1.8" stroke-linejoin="round"/>
<g stroke="#000" stroke-width="1" stroke-dasharray="2 2" shape-rendering="crispEdges">
<line x1="362.5" y1="144" x2="362.5" y2="221.5"/>
<line x1="381.5" y1="144" x2="381.5" y2="221.5"/>
<line x1="400.5" y1="144" x2="400.5" y2="221.5"/>
<line x1="419.5" y1="144" x2="419.5" y2="221.5"/>
<line x1="438.5" y1="144" x2="438.5" y2="221.5"/>
<line x1="457.5" y1="144" x2="457.5" y2="221.5"/>
<line x1="477.5" y1="144" x2="477.5" y2="221.5"/>
<line x1="496.5" y1="144" x2="496.5" y2="221.5"/>
<line x1="515.5" y1="144" x2="515.5" y2="221.5"/>
<line x1="534.5" y1="144" x2="534.5" y2="221.5"/>
<line x1="553.5" y1="144" x2="553.5" y2="221.5"/>
<line x1="572.5" y1="144" x2="572.5" y2="221.5"/>
<line x1="592.5" y1="144" x2="592.5" y2="221.5"/>
<line x1="611.5" y1="144" x2="611.5" y2="221.5"/>
<line x1="630.5" y1="144" x2="630.5" y2="221.5"/>
<line x1="649.5" y1="144" x2="649.5" y2="221.5"/>
<line x1="668.5" y1="144" x2="668.5" y2="221.5"/>
<line x1="687.5" y1="144" x2="687.5" y2="221.5"/>
<line x1="707.5" y1="144" x2="707.5" y2="221.5"/>
<line x1="726.5" y1="144" x2="726.5" y2="221.5"/>
<line x1="745.5" y1="144" x2="745.5" y2="221.5"/>
<line x1="764.5" y1="144" x2="764.5" y2="221.5"/>
<line x1="783.5" y1="144" x2="783.5" y2="221.5"/>
<line x1="802.5" y1="144" x2="802.5" y2="221.5"/>
<line x1="822.5" y1="144" x2="822.5" y2="221.5"/>
<line x1="348.5" y1="147.5" x2="841.5" y2="147.5"/>
<line x1="348.5" y1="162.5" x2="841.5" y2="162.5"/>
<line x1="348.5" y1="176.5" x2="841.5" y2="176.5"/>
<line x1="348.5" y1="191.5" x2="841.5" y2="191.5"/>
<line x1="348.5" y1="206.5" x2="841.5" y2="206.5"/>
</g>
</g>
<rect x="348.5" y="144.5" width="493" height="77" fill="none" stroke="#262626" stroke-width="1" shape-rendering="crispEdges"/>
<g stroke="#000" stroke-width="1" stroke-dasharray="2 2" shape-rendering="crispEdges">
<line x1="348.5" y1="144.5" x2="348.5" y2="221.5"/>
<line x1="841.5" y1="144.5" x2="841.5" y2="221.5"/>
</g>
<line x1="348.5" y1="221" x2="841.5" y2="221" stroke="#1E6E1E" stroke-width="1" stroke-dasharray="2 2" shape-rendering="crispEdges"/>
<clipPath id="cQ"><rect x="348.5" y="230" width="493" height="78"/></clipPath>
<g clip-path="url(#cQ)">
<polygon points="349,308 349,253 361,252 361,308" fill="#FBB411" />
<polygon points="361,308 361,252 380,249 380,308" fill="#FDBA15" />
<polygon points="380,308 380,249 400,245 406,243.6 432,244 438,245 444,246.7 444,308" fill="#FF9010" />
<polygon points="444,308 444,246.7 451,248.6 464,251 464,308" fill="#FFB912" />
<polygon points="464,308 464,251 476,252 489,250.4 495,250.6 508,252.6 522,252.4 534,251 540,251.6 540,308" fill="#FDB011" />
<polygon points="540,308 540,251.6 560,250.6 585,250.6 592,250.1 592,308" fill="#FFB912" />
<polygon points="592,308 592,250.1 598,249.6 604,248.3 604,308" fill="#FCAF10" />
<polygon points="604,308 604,248.3 610,247 630,245 630,308" fill="#FF8A0C" />
<polygon points="630,308 630,245 637,244.6 650,242.6 662,244 675,243.6 687,240.4 687,308" fill="#FF930F" />
<polygon points="687,308 687,240.4 700,238 706,237 713,238.6 719,239.6 732,239 738,240 751,239 764,237.4 770,237.6 783,240 783,308" fill="#FF6602" />
<polygon points="783,308 783,240 802,241.4 808,243.4 815,246.1 815,308" fill="#FF8E10" />
<polygon points="815,308 815,246.1 821,248.4 828,250 841.5,251 841.5,308" fill="#FFB000" />
<polyline points="349,253 361,252 380,249 400,245 406,243.6 432,244 438,245 451,248.6 464,251 476,252 489,250.4 495,250.6 508,252.6 522,252.4 534,251 540,251.6 560,250.6 585,250.6 598,249.6 610,247 630,245 637,244.6 650,242.6 662,244 675,243.6 687,240.4 700,238 706,237 713,238.6 719,239.6 732,239 738,240 751,239 764,237.4 770,237.6 783,240 802,241.4 808,243.4 821,248.4 828,250 841.5,251" fill="none" stroke="#000" stroke-width="2.2" stroke-linejoin="round"/>
<g stroke="#000" stroke-width="1" stroke-dasharray="2 2" shape-rendering="crispEdges">
<line x1="362.5" y1="230" x2="362.5" y2="308"/>
<line x1="381.5" y1="230" x2="381.5" y2="308"/>
<line x1="400.5" y1="230" x2="400.5" y2="308"/>
<line x1="419.5" y1="230" x2="419.5" y2="308"/>
<line x1="438.5" y1="230" x2="438.5" y2="308"/>
<line x1="457.5" y1="230" x2="457.5" y2="308"/>
<line x1="477.5" y1="230" x2="477.5" y2="308"/>
<line x1="496.5" y1="230" x2="496.5" y2="308"/>
<line x1="515.5" y1="230" x2="515.5" y2="308"/>
<line x1="534.5" y1="230" x2="534.5" y2="308"/>
<line x1="553.5" y1="230" x2="553.5" y2="308"/>
<line x1="572.5" y1="230" x2="572.5" y2="308"/>
<line x1="592.5" y1="230" x2="592.5" y2="308"/>
<line x1="611.5" y1="230" x2="611.5" y2="308"/>
<line x1="630.5" y1="230" x2="630.5" y2="308"/>
<line x1="649.5" y1="230" x2="649.5" y2="308"/>
<line x1="668.5" y1="230" x2="668.5" y2="308"/>
<line x1="687.5" y1="230" x2="687.5" y2="308"/>
<line x1="707.5" y1="230" x2="707.5" y2="308"/>
<line x1="726.5" y1="230" x2="726.5" y2="308"/>
<line x1="745.5" y1="230" x2="745.5" y2="308"/>
<line x1="764.5" y1="230" x2="764.5" y2="308"/>
<line x1="783.5" y1="230" x2="783.5" y2="308"/>
<line x1="802.5" y1="230" x2="802.5" y2="308"/>
<line x1="822.5" y1="230" x2="822.5" y2="308"/>
<line x1="348.5" y1="251.5" x2="841.5" y2="251.5"/>
<line x1="348.5" y1="272.5" x2="841.5" y2="272.5"/>
<line x1="348.5" y1="292.5" x2="841.5" y2="292.5"/>
</g>
</g>
<rect x="348.5" y="230.5" width="493" height="78" fill="none" stroke="#262626" stroke-width="1" shape-rendering="crispEdges"/>
<g stroke="#000" stroke-width="1" stroke-dasharray="2 2" shape-rendering="crispEdges">
<line x1="348.5" y1="230.5" x2="348.5" y2="308.5"/>
<line x1="841.5" y1="230.5" x2="841.5" y2="308.5"/>
</g>
<clipPath id="cW"><rect x="348.5" y="318" width="493" height="77.5"/></clipPath>
<g clip-path="url(#cW)">
<polygon points="349,395.5 349,362.4 355,361 361,365 361,395.5" fill="#14C814" />
<polygon points="361,395.5 361,365 368,369.4 374,364.4 380,367 380,395.5" fill="#008000" />
<polygon points="380,395.5 380,367 387,372.4 393,374.4 400,369.6 400,395.5" fill="#004890" />
<polygon points="400,395.5 400,369.6 406,369.4 412,367.6 419,370 419,395.5" fill="#008000" />
<polygon points="419,395.5 419,370 432,370.6 432,395.5" fill="#004890" />
<polygon points="432,395.5 432,370.6 438,368.4 444,365.6 444,395.5" fill="#008000" />
<polygon points="444,395.5 444,365.6 451,363 464,364.4 470,364.4 476,363 483,365 483,395.5" fill="#14C814" />
<polygon points="483,395.5 483,365 489,367 495,366.6 502,367.6 508,369.5 508,395.5" fill="#008000" />
<polygon points="508,395.5 508,369.5 514,369.1 514,395.5" fill="#004890" />
<polygon points="514,395.5 514,369.1 520,368.6 527,369 527,395.5" fill="#008000" />
<polygon points="527,395.5 527,369 534,369.4 534,395.5" fill="#004890" />
<polygon points="534,395.5 534,369.4 553,368 566,369.6 566,395.5" fill="#008000" />
<polygon points="566,395.5 566,369.6 579,372.4 592,372 604,372.4 610,374 610,395.5" fill="#004890" />
<polygon points="610,395.5 610,374 617,376 630,375 643,377.4 650,378 662,376 668,374.6 668,395.5" fill="#0080FF" />
<polygon points="668,395.5 668,374.6 674,374.6 674,395.5" fill="#004890" />
<polygon points="674,395.5 674,374.6 681,374.6 681,395.5" fill="#0080FF" />
<polygon points="681,395.5 681,374.6 682,374.6 694,372 706,371 725,371.4 738,373 745,371.4 758,372 770,373.6 777,374.4 783,374 783,395.5" fill="#004890" />
<polygon points="783,395.5 783,374 790,376 802,375 821,376 828,377.4 834,376 841.5,374.4 841.5,395.5" fill="#0080FF" />
<polyline points="349,362.4 355,361 361,365 368,369.4 374,364.4 380,367 387,372.4 393,374.4 400,369.6 406,369.4 412,367.6 419,370 432,370.6 438,368.4 444,365.6 451,363 464,364.4 470,364.4 476,363 483,365 489,367 495,366.6 502,367.6 508,369.5 520,368.6 534,369.4 553,368 566,369.6 579,372.4 592,372 604,372.4 610,374 617,376 630,375 643,377.4 650,378 662,376 668,374.6 682,374.6 694,372 706,371 725,371.4 738,373 745,371.4 758,372 770,373.6 777,374.4 783,374 790,376 802,375 821,376 828,377.4 834,376 841.5,374.4" fill="none" stroke="#000090" stroke-width="2.2" stroke-linejoin="round"/>
<g stroke="#FF0000" stroke-width="1" shape-rendering="crispEdges">
<line x1="349" y1="321.5" x2="355" y2="321.5"/>
<line x1="355" y1="323.5" x2="361" y2="323.5"/>
<line x1="361" y1="330.5" x2="368" y2="330.5"/>
<line x1="368" y1="328.5" x2="374" y2="328.5"/>
<line x1="374" y1="329.5" x2="380" y2="329.5"/>
<line x1="380" y1="333.5" x2="387" y2="333.5"/>
<line x1="387" y1="344.5" x2="393" y2="344.5"/>
<line x1="393" y1="343.5" x2="400" y2="343.5"/>
<line x1="400" y1="341.5" x2="406" y2="341.5"/>
<line x1="406" y1="339.5" x2="419" y2="339.5"/>
<line x1="419" y1="343.5" x2="432" y2="343.5"/>
<line x1="432" y1="339.5" x2="438" y2="339.5"/>
<line x1="438" y1="335.5" x2="444" y2="335.5"/>
<line x1="444" y1="332.5" x2="457" y2="332.5"/>
<line x1="457" y1="330.5" x2="464" y2="330.5"/>
<line x1="464" y1="328.5" x2="470" y2="328.5"/>
<line x1="470" y1="327.5" x2="483" y2="327.5"/>
<line x1="483" y1="331.5" x2="489" y2="331.5"/>
<line x1="489" y1="335.5" x2="495" y2="335.5"/>
<line x1="495" y1="338.5" x2="502" y2="338.5"/>
<line x1="502" y1="339.5" x2="508" y2="339.5"/>
<line x1="508" y1="343.5" x2="515" y2="343.5"/>
<line x1="515" y1="343.5" x2="534" y2="343.5"/>
<line x1="534" y1="341.5" x2="547" y2="341.5"/>
<line x1="547" y1="340.5" x2="560" y2="340.5"/>
<line x1="560" y1="342.5" x2="566" y2="342.5"/>
<line x1="566" y1="344.5" x2="572" y2="344.5"/>
<line x1="572" y1="346.5" x2="579" y2="346.5"/>
<line x1="579" y1="347.5" x2="598" y2="347.5"/>
<line x1="598" y1="348.5" x2="610" y2="348.5"/>
<line x1="610" y1="351.5" x2="617" y2="351.5"/>
<line x1="617" y1="352.5" x2="623" y2="352.5"/>
<line x1="623" y1="354.5" x2="630" y2="354.5"/>
<line x1="630" y1="355.5" x2="637" y2="355.5"/>
<line x1="637" y1="357.5" x2="655" y2="357.5"/>
<line x1="655" y1="356.5" x2="662" y2="356.5"/>
<line x1="662" y1="355.5" x2="668" y2="355.5"/>
<line x1="668" y1="353.5" x2="682" y2="353.5"/>
<line x1="682" y1="350.5" x2="687" y2="350.5"/>
<line x1="687" y1="347.5" x2="706" y2="347.5"/>
<line x1="706" y1="348.5" x2="713" y2="348.5"/>
<line x1="713" y1="347.5" x2="719" y2="347.5"/>
<line x1="719" y1="345.5" x2="725" y2="345.5"/>
<line x1="725" y1="346.5" x2="732" y2="346.5"/>
<line x1="732" y1="347.5" x2="738" y2="347.5"/>
<line x1="738" y1="344.5" x2="751" y2="344.5"/>
<line x1="751" y1="343.5" x2="764" y2="343.5"/>
<line x1="764" y1="346.5" x2="770" y2="346.5"/>
<line x1="770" y1="349.5" x2="777" y2="349.5"/>
<line x1="777" y1="346.5" x2="790" y2="346.5"/>
<line x1="790" y1="349.5" x2="796" y2="349.5"/>
<line x1="796" y1="351.5" x2="802" y2="351.5"/>
<line x1="802" y1="349.5" x2="808" y2="349.5"/>
<line x1="808" y1="352.5" x2="815" y2="352.5"/>
<line x1="815" y1="353.5" x2="821" y2="353.5"/>
<line x1="821" y1="350.5" x2="828" y2="350.5"/>
<line x1="828" y1="348.5" x2="834" y2="348.5"/>
<line x1="834" y1="346.5" x2="841.5" y2="346.5"/>
</g>
<g stroke="#000" stroke-width="1" stroke-dasharray="2 2" shape-rendering="crispEdges">
<line x1="362.5" y1="318" x2="362.5" y2="395.5"/>
<line x1="381.5" y1="318" x2="381.5" y2="395.5"/>
<line x1="400.5" y1="318" x2="400.5" y2="395.5"/>
<line x1="419.5" y1="318" x2="419.5" y2="395.5"/>
<line x1="438.5" y1="318" x2="438.5" y2="395.5"/>
<line x1="457.5" y1="318" x2="457.5" y2="395.5"/>
<line x1="477.5" y1="318" x2="477.5" y2="395.5"/>
<line x1="496.5" y1="318" x2="496.5" y2="395.5"/>
<line x1="515.5" y1="318" x2="515.5" y2="395.5"/>
<line x1="534.5" y1="318" x2="534.5" y2="395.5"/>
<line x1="553.5" y1="318" x2="553.5" y2="395.5"/>
<line x1="572.5" y1="318" x2="572.5" y2="395.5"/>
<line x1="592.5" y1="318" x2="592.5" y2="395.5"/>
<line x1="611.5" y1="318" x2="611.5" y2="395.5"/>
<line x1="630.5" y1="318" x2="630.5" y2="395.5"/>
<line x1="649.5" y1="318" x2="649.5" y2="395.5"/>
<line x1="668.5" y1="318" x2="668.5" y2="395.5"/>
<line x1="687.5" y1="318" x2="687.5" y2="395.5"/>
<line x1="707.5" y1="318" x2="707.5" y2="395.5"/>
<line x1="726.5" y1="318" x2="726.5" y2="395.5"/>
<line x1="745.5" y1="318" x2="745.5" y2="395.5"/>
<line x1="764.5" y1="318" x2="764.5" y2="395.5"/>
<line x1="783.5" y1="318" x2="783.5" y2="395.5"/>
<line x1="802.5" y1="318" x2="802.5" y2="395.5"/>
<line x1="822.5" y1="318" x2="822.5" y2="395.5"/>
<line x1="348.5" y1="320.5" x2="841.5" y2="320.5"/>
<line x1="348.5" y1="344.5" x2="841.5" y2="344.5"/>
<line x1="348.5" y1="370.5" x2="841.5" y2="370.5"/>
</g>
</g>
<rect x="348.5" y="318.5" width="493" height="77" fill="none" stroke="#262626" stroke-width="1" shape-rendering="crispEdges"/>
<g stroke="#000" stroke-width="1" stroke-dasharray="2 2" shape-rendering="crispEdges">
<line x1="348.5" y1="318.5" x2="348.5" y2="395.5"/>
<line x1="841.5" y1="318.5" x2="841.5" y2="395.5"/>
</g>
<g stroke="#000" stroke-width="1" stroke-dasharray="2 2" shape-rendering="crispEdges">
<line x1="362.5" y1="401.5" x2="362.5" y2="431"/>
<line x1="381.5" y1="401.5" x2="381.5" y2="431"/>
<line x1="400.5" y1="401.5" x2="400.5" y2="431"/>
<line x1="419.5" y1="401.5" x2="419.5" y2="431"/>
<line x1="438.5" y1="401.5" x2="438.5" y2="431"/>
<line x1="457.5" y1="401.5" x2="457.5" y2="431"/>
<line x1="477.5" y1="401.5" x2="477.5" y2="431"/>
<line x1="496.5" y1="401.5" x2="496.5" y2="431"/>
<line x1="515.5" y1="401.5" x2="515.5" y2="431"/>
<line x1="534.5" y1="401.5" x2="534.5" y2="431"/>
<line x1="553.5" y1="401.5" x2="553.5" y2="431"/>
<line x1="572.5" y1="401.5" x2="572.5" y2="431"/>
<line x1="592.5" y1="401.5" x2="592.5" y2="431"/>
<line x1="611.5" y1="401.5" x2="611.5" y2="431"/>
<line x1="630.5" y1="401.5" x2="630.5" y2="431"/>
<line x1="649.5" y1="401.5" x2="649.5" y2="431"/>
<line x1="668.5" y1="401.5" x2="668.5" y2="431"/>
<line x1="687.5" y1="401.5" x2="687.5" y2="431"/>
<line x1="707.5" y1="401.5" x2="707.5" y2="431"/>
<line x1="726.5" y1="401.5" x2="726.5" y2="431"/>
<line x1="745.5" y1="401.5" x2="745.5" y2="431"/>
<line x1="764.5" y1="401.5" x2="764.5" y2="431"/>
<line x1="783.5" y1="401.5" x2="783.5" y2="431"/>
<line x1="802.5" y1="401.5" x2="802.5" y2="431"/>
<line x1="822.5" y1="401.5" x2="822.5" y2="431"/>
</g>
<rect x="348.5" y="401.5" width="493" height="29.5" fill="none" stroke="#5A5A5A" stroke-width="1.4" shape-rendering="crispEdges"/>
<line x1="348.5" y1="432" x2="841.5" y2="432" stroke="#8C8C8C" stroke-width="1" shape-rendering="crispEdges"/>
<g stroke="#000099" stroke-width="1.3" fill="#000099">
<path d="M341.7 414.8L350.2 416.9" fill="none"/>
<path d="M355.3 418.2L349.6 419.6L350.9 414.3Z" stroke="none"/>
<path d="M348.1 414.9L356.6 416.9" fill="none"/>
<path d="M361.7 418.1L356 419.5L357.3 414.3Z" stroke="none"/>
<path d="M354.5 414.9L363 416.9" fill="none"/>
<path d="M368.1 418.1L362.4 419.5L363.6 414.3Z" stroke="none"/>
<path d="M360.8 415L369.4 416.9" fill="none"/>
<path d="M374.5 418L368.8 419.5L370 414.3Z" stroke="none"/>
<path d="M367.2 415L375.8 416.9" fill="none"/>
<path d="M380.9 418L375.3 419.5L376.4 414.2Z" stroke="none"/>
<path d="M373.6 415.1L382.2 416.9" fill="none"/>
<path d="M387.3 417.9L381.7 419.5L382.8 414.2Z" stroke="none"/>
<path d="M380 415.2L388.6 416.8" fill="none"/>
<path d="M393.7 417.8L388.1 419.5L389.1 414.2Z" stroke="none"/>
<path d="M386.3 415.2L395 416.8" fill="none"/>
<path d="M400.1 417.8L394.5 419.5L395.5 414.2Z" stroke="none"/>
<path d="M392.7 415.3L401.4 416.8" fill="none"/>
<path d="M406.5 417.7L400.9 419.5L401.9 414.2Z" stroke="none"/>
<path d="M399 415.8L407.8 416.7" fill="none"/>
<path d="M413 417.2L407.5 419.4L408.1 414Z" stroke="none"/>
<path d="M405.4 416.3L414.2 416.6" fill="none"/>
<path d="M419.4 416.7L414.1 419.3L414.3 413.9Z" stroke="none"/>
<path d="M411.8 416.4L420.6 416.5" fill="none"/>
<path d="M425.8 416.6L420.5 419.2L420.6 413.8Z" stroke="none"/>
<path d="M418.2 416.5L427 416.5" fill="none"/>
<path d="M432.2 416.5L427 419.2L427 413.8Z" stroke="none"/>
<path d="M424.6 416.6L433.4 416.5" fill="none"/>
<path d="M438.6 416.4L433.4 419.2L433.3 413.8Z" stroke="none"/>
<path d="M431 416.7L439.8 416.4" fill="none"/>
<path d="M445 416.3L439.8 419.1L439.7 413.7Z" stroke="none"/>
<path d="M437.7 418.8L446 415.9" fill="none"/>
<path d="M451 414.2L446.9 418.4L445.2 413.4Z" stroke="none"/>
<path d="M444.7 420L452.3 415.6" fill="none"/>
<path d="M456.8 413L453.7 417.9L450.9 413.3Z" stroke="none"/>
<path d="M451.1 420.1L458.7 415.6" fill="none"/>
<path d="M463.2 412.9L460.1 417.9L457.3 413.3Z" stroke="none"/>
<path d="M457.5 420.1L465.1 415.6" fill="none"/>
<path d="M469.5 412.9L466.5 417.9L463.7 413.3Z" stroke="none"/>
<path d="M463.9 420.2L471.4 415.6" fill="none"/>
<path d="M475.9 412.8L472.9 417.9L470 413.3Z" stroke="none"/>
<path d="M470.4 420.2L477.8 415.5" fill="none"/>
<path d="M482.2 412.8L479.3 417.8L476.4 413.3Z" stroke="none"/>
<path d="M476 418.6L484.4 416" fill="none"/>
<path d="M489.4 414.4L485.2 418.5L483.6 413.4Z" stroke="none"/>
<path d="M482.2 417.7L490.9 416.2" fill="none"/>
<path d="M496 415.3L491.3 418.8L490.4 413.5Z" stroke="none"/>
<path d="M488.6 417.8L497.2 416.2" fill="none"/>
<path d="M502.4 415.2L497.7 418.8L496.7 413.5Z" stroke="none"/>
<path d="M495 417.8L503.6 416.2" fill="none"/>
<path d="M508.7 415.2L504.1 418.8L503.1 413.5Z" stroke="none"/>
<path d="M501.4 417.9L510 416.2" fill="none"/>
<path d="M515.1 415.1L510.5 418.8L509.5 413.5Z" stroke="none"/>
<path d="M507.8 417.9L516.4 416.1" fill="none"/>
<path d="M521.5 415.1L516.9 418.8L515.9 413.5Z" stroke="none"/>
<path d="M514.2 417.9L522.8 416.1" fill="none"/>
<path d="M527.9 415.1L523.3 418.8L522.2 413.5Z" stroke="none"/>
<path d="M520.7 418.4L529.2 416" fill="none"/>
<path d="M534.2 414.6L529.9 418.6L528.4 413.4Z" stroke="none"/>
<path d="M527.4 419.4L535.5 415.8" fill="none"/>
<path d="M540.2 413.6L536.6 418.2L534.3 413.3Z" stroke="none"/>
<path d="M533.9 419.6L541.8 415.7" fill="none"/>
<path d="M546.5 413.4L543 418.1L540.6 413.3Z" stroke="none"/>
<path d="M540.3 419.7L548.2 415.7" fill="none"/>
<path d="M552.8 413.3L549.4 418.1L547 413.3Z" stroke="none"/>
<path d="M546.8 419.7L554.6 415.7" fill="none"/>
<path d="M559.2 413.3L555.8 418.1L553.3 413.3Z" stroke="none"/>
<path d="M553.2 419.7L561 415.7" fill="none"/>
<path d="M565.6 413.3L562.2 418.1L559.7 413.3Z" stroke="none"/>
<path d="M559.6 419.8L567.3 415.7" fill="none"/>
<path d="M571.9 413.2L568.6 418L566.1 413.3Z" stroke="none"/>
<path d="M566 419.8L573.7 415.6" fill="none"/>
<path d="M578.3 413.2L575 418L572.4 413.3Z" stroke="none"/>
<path d="M572.4 419.9L580.1 415.6" fill="none"/>
<path d="M584.7 413.1L581.4 418L578.8 413.3Z" stroke="none"/>
<path d="M578.8 419.9L586.5 415.6" fill="none"/>
<path d="M591 413.1L587.8 418L585.2 413.3Z" stroke="none"/>
<path d="M585.2 420L592.9 415.6" fill="none"/>
<path d="M597.4 413L594.2 418L591.5 413.3Z" stroke="none"/>
<path d="M591.8 420.3L599.2 415.5" fill="none"/>
<path d="M603.6 412.7L600.7 417.8L597.8 413.3Z" stroke="none"/>
<path d="M598.6 420.8L605.5 415.4" fill="none"/>
<path d="M609.6 412.2L607.2 417.5L603.9 413.3Z" stroke="none"/>
<path d="M605.1 420.9L611.9 415.4" fill="none"/>
<path d="M615.9 412.1L613.6 417.5L610.2 413.3Z" stroke="none"/>
<path d="M611.5 421L618.3 415.3" fill="none"/>
<path d="M622.2 412L620 417.4L616.5 413.3Z" stroke="none"/>
<path d="M618 421.1L624.6 415.3" fill="none"/>
<path d="M628.5 411.9L626.4 417.3L622.8 413.3Z" stroke="none"/>
<path d="M624.5 421.2L631 415.3" fill="none"/>
<path d="M634.8 411.8L632.8 417.3L629.2 413.3Z" stroke="none"/>
<path d="M631 421.3L637.4 415.3" fill="none"/>
<path d="M641.1 411.7L639.2 417.2L635.5 413.3Z" stroke="none"/>
<path d="M637.6 421.5L643.7 415.2" fill="none"/>
<path d="M647.3 411.5L645.6 417.1L641.8 413.3Z" stroke="none"/>
<path d="M644.4 421.9L650 415.1" fill="none"/>
<path d="M653.3 411.1L652.1 416.8L647.9 413.4Z" stroke="none"/>
<path d="M651.2 422.3L656.2 415" fill="none"/>
<path d="M659.2 410.7L658.5 416.6L654 413.5Z" stroke="none"/>
<path d="M658.4 422.7L662.4 414.9" fill="none"/>
<path d="M664.8 410.3L664.8 416.1L660 413.7Z" stroke="none"/>
<path d="M665.6 423.1L668.6 414.8" fill="none"/>
<path d="M670.4 409.9L671.2 415.7L666.1 413.9Z" stroke="none"/>
<path d="M672.6 423.3L674.9 414.8" fill="none"/>
<path d="M676.2 409.7L677.5 415.5L672.3 414.1Z" stroke="none"/>
<path d="M679.5 423.4L681.1 414.7" fill="none"/>
<path d="M682 409.6L683.8 415.2L678.4 414.3Z" stroke="none"/>
<path d="M686 423.4L687.5 414.7" fill="none"/>
<path d="M688.4 409.6L690.1 415.2L684.8 414.3Z" stroke="none"/>
<path d="M692.3 423.4L693.9 414.7" fill="none"/>
<path d="M694.8 409.6L696.5 415.2L691.2 414.3Z" stroke="none"/>
<path d="M698.7 423.4L700.3 414.7" fill="none"/>
<path d="M701.2 409.6L702.9 415.2L697.6 414.3Z" stroke="none"/>
<path d="M705.3 423.4L706.6 414.7" fill="none"/>
<path d="M707.4 409.6L709.3 415.1L703.9 414.3Z" stroke="none"/>
<path d="M711.8 423.4L713 414.7" fill="none"/>
<path d="M713.7 409.6L715.6 415.1L710.3 414.4Z" stroke="none"/>
<path d="M718.3 423.5L719.3 414.7" fill="none"/>
<path d="M719.9 409.5L722 415L716.6 414.4Z" stroke="none"/>
<path d="M724.8 423.5L725.7 414.7" fill="none"/>
<path d="M726.2 409.5L728.4 415L723 414.5Z" stroke="none"/>
<path d="M731.4 423.5L732 414.7" fill="none"/>
<path d="M732.4 409.5L734.7 414.9L729.3 414.5Z" stroke="none"/>
<path d="M737.9 423.5L738.4 414.7" fill="none"/>
<path d="M738.7 409.5L741.1 414.9L735.7 414.6Z" stroke="none"/>
<path d="M744.4 423.5L744.7 414.7" fill="none"/>
<path d="M744.9 409.5L747.4 414.8L742 414.6Z" stroke="none"/>
<path d="M751 423.5L751.1 414.7" fill="none"/>
<path d="M751.1 409.5L753.8 414.7L748.4 414.7Z" stroke="none"/>
<path d="M757.6 423.5L757.4 414.7" fill="none"/>
<path d="M757.4 409.5L760.1 414.7L754.7 414.7Z" stroke="none"/>
<path d="M764.1 423.5L763.8 414.7" fill="none"/>
<path d="M763.6 409.5L766.5 414.6L761.1 414.8Z" stroke="none"/>
<path d="M770.7 423.5L770.1 414.7" fill="none"/>
<path d="M769.8 409.5L772.8 414.5L767.4 414.9Z" stroke="none"/>
<path d="M777.2 423.5L776.5 414.7" fill="none"/>
<path d="M776 409.5L779.2 414.5L773.8 414.9Z" stroke="none"/>
<path d="M783.8 423.5L782.8 414.7" fill="none"/>
<path d="M782.2 409.5L785.5 414.4L780.1 415Z" stroke="none"/>
<path d="M790.4 423.4L789.2 414.7" fill="none"/>
<path d="M788.5 409.6L791.8 414.3L786.5 415.1Z" stroke="none"/>
<path d="M797 423.4L795.5 414.7" fill="none"/>
<path d="M794.6 409.6L798.2 414.3L792.8 415.2Z" stroke="none"/>
<path d="M803.6 423.4L801.8 414.7" fill="none"/>
<path d="M800.8 409.6L804.5 414.2L799.2 415.3Z" stroke="none"/>
<path d="M810.2 423.3L808.2 414.7" fill="none"/>
<path d="M807 409.7L810.8 414.1L805.5 415.4Z" stroke="none"/>
<path d="M816.8 423.3L814.5 414.8" fill="none"/>
<path d="M813.2 409.7L817.1 414.1L811.9 415.5Z" stroke="none"/>
<path d="M823.4 423.2L820.8 414.8" fill="none"/>
<path d="M819.4 409.8L823.4 414L818.3 415.5Z" stroke="none"/>
<path d="M830 423.1L827.2 414.8" fill="none"/>
<path d="M825.5 409.9L829.7 413.9L824.6 415.6Z" stroke="none"/>
<path d="M836.5 423.1L833.5 414.8" fill="none"/>
<path d="M831.7 409.9L836.1 413.9L831 415.7Z" stroke="none"/>
<path d="M843.1 423L839.9 414.8" fill="none"/>
<path d="M837.9 410L842.4 413.8L837.4 415.8Z" stroke="none"/>
</g>
<clipPath id="cB"><rect x="348.5" y="438" width="493" height="78.5"/></clipPath>
<g clip-path="url(#cB)">
<rect x="348.5" y="438" width="493" height="78.5" fill="#7DBFEE" />
<rect x="386" y="438" width="47" height="78.5" fill="#87D7FF" />
<rect x="540" y="438" width="46" height="78.5" fill="#87D7FF" />
<rect x="693" y="438" width="47" height="78.5" fill="#87D7FF" />
<circle cx="348.5" cy="509.9" r="2.7" fill="#FFFFFF"/>
<circle cx="348.5" cy="504.6" r="2.7" fill="#D2D2D2"/>
<circle cx="348.5" cy="501" r="2.7" fill="#A0A0A0"/>
<circle cx="348.5" cy="496.1" r="2.7" fill="#5F5F5F"/>
<circle cx="348.5" cy="489.4" r="2.8" fill="#000"/>
<circle cx="354.9" cy="510.5" r="2.7" fill="#FFFFFF"/>
<circle cx="354.9" cy="505.6" r="2.7" fill="#D2D2D2"/>
<circle cx="354.9" cy="502.5" r="2.7" fill="#A0A0A0"/>
<circle cx="354.9" cy="497.1" r="2.7" fill="#5F5F5F"/>
<circle cx="354.9" cy="489.4" r="2.8" fill="#000"/>
<circle cx="361.3" cy="510.1" r="2.7" fill="#FFFFFF"/>
<circle cx="361.3" cy="506.4" r="2.7" fill="#D2D2D2"/>
<circle cx="361.3" cy="501.5" r="2.7" fill="#A0A0A0"/>
<circle cx="361.3" cy="497.9" r="2.7" fill="#5F5F5F"/>
<circle cx="361.3" cy="490.9" r="2.8" fill="#000"/>
<circle cx="367.7" cy="510.7" r="2.7" fill="#FFFFFF"/>
<circle cx="367.7" cy="507.4" r="2.7" fill="#D2D2D2"/>
<circle cx="367.7" cy="503" r="2.7" fill="#A0A0A0"/>
<circle cx="367.7" cy="498.9" r="2.7" fill="#5F5F5F"/>
<circle cx="367.7" cy="488.1" r="2.8" fill="#000"/>
<circle cx="374.1" cy="510.3" r="2.7" fill="#FFFFFF"/>
<circle cx="374.1" cy="505.1" r="2.7" fill="#D2D2D2"/>
<circle cx="374.1" cy="502" r="2.7" fill="#A0A0A0"/>
<circle cx="374.1" cy="496.6" r="2.7" fill="#5F5F5F"/>
<circle cx="374.1" cy="485.1" r="2.8" fill="#000"/>
<circle cx="380.4" cy="510.6" r="2.7" fill="#FFFFFF"/>
<circle cx="380.4" cy="507.6" r="2.7" fill="#D2D2D2"/>
<circle cx="380.4" cy="504.3" r="2.7" fill="#A0A0A0"/>
<circle cx="380.4" cy="500.5" r="2.7" fill="#5F5F5F"/>
<circle cx="380.4" cy="496.8" r="2.8" fill="#5F5F5F"/>
<circle cx="386.8" cy="510.6" r="2.7" fill="#FFFFFF"/>
<circle cx="386.8" cy="508.2" r="2.7" fill="#D2D2D2"/>
<circle cx="386.8" cy="505.3" r="2.7" fill="#A0A0A0"/>
<circle cx="386.8" cy="502.1" r="2.7" fill="#5F5F5F"/>
<circle cx="386.8" cy="498.9" r="2.8" fill="#5F5F5F"/>
<circle cx="393.2" cy="510.6" r="2.7" fill="#FFFFFF"/>
<circle cx="393.2" cy="508.3" r="2.7" fill="#D2D2D2"/>
<circle cx="393.2" cy="505.7" r="2.7" fill="#A0A0A0"/>
<circle cx="393.2" cy="502.7" r="2.7" fill="#5F5F5F"/>
<circle cx="393.2" cy="499.7" r="2.8" fill="#5F5F5F"/>
<circle cx="399.6" cy="510.7" r="2.7" fill="#FFFFFF"/>
<circle cx="399.6" cy="505.6" r="2.7" fill="#D2D2D2"/>
<circle cx="399.6" cy="503" r="2.7" fill="#A0A0A0"/>
<circle cx="399.6" cy="497.1" r="2.7" fill="#5F5F5F"/>
<circle cx="399.6" cy="490.2" r="2.8" fill="#000"/>
<circle cx="406" cy="510.3" r="2.7" fill="#FFFFFF"/>
<circle cx="406" cy="506.4" r="2.7" fill="#D2D2D2"/>
<circle cx="406" cy="502" r="2.7" fill="#A0A0A0"/>
<circle cx="406" cy="497.9" r="2.7" fill="#5F5F5F"/>
<circle cx="406" cy="487" r="2.8" fill="#000"/>
<circle cx="412.4" cy="509.9" r="2.7" fill="#FFFFFF"/>
<circle cx="412.4" cy="507.4" r="2.7" fill="#D2D2D2"/>
<circle cx="412.4" cy="501" r="2.7" fill="#A0A0A0"/>
<circle cx="412.4" cy="498.9" r="2.7" fill="#5F5F5F"/>
<circle cx="412.4" cy="491.7" r="2.8" fill="#000"/>
<circle cx="418.8" cy="510.5" r="2.7" fill="#FFFFFF"/>
<circle cx="418.8" cy="505.1" r="2.7" fill="#D2D2D2"/>
<circle cx="418.8" cy="502.5" r="2.7" fill="#A0A0A0"/>
<circle cx="418.8" cy="496.6" r="2.7" fill="#5F5F5F"/>
<circle cx="418.8" cy="493.9" r="2.8" fill="#000"/>
<circle cx="425.2" cy="510.6" r="2.7" fill="#FFFFFF"/>
<circle cx="425.2" cy="507.5" r="2.7" fill="#D2D2D2"/>
<circle cx="425.2" cy="503.9" r="2.7" fill="#A0A0A0"/>
<circle cx="425.2" cy="500" r="2.7" fill="#5F5F5F"/>
<circle cx="425.2" cy="496" r="2.8" fill="#000"/>
<circle cx="431.6" cy="510.6" r="2.7" fill="#FFFFFF"/>
<circle cx="431.6" cy="507.5" r="2.7" fill="#D2D2D2"/>
<circle cx="431.6" cy="503.9" r="2.7" fill="#A0A0A0"/>
<circle cx="431.6" cy="500" r="2.7" fill="#5F5F5F"/>
<circle cx="431.6" cy="496" r="2.8" fill="#000"/>
<circle cx="438" cy="510.6" r="2.7" fill="#FFFFFF"/>
<circle cx="438" cy="508.2" r="2.7" fill="#D2D2D2"/>
<circle cx="438" cy="505.3" r="2.7" fill="#A0A0A0"/>
<circle cx="438" cy="502.2" r="2.7" fill="#5F5F5F"/>
<circle cx="438" cy="499" r="2.8" fill="#000"/>
<circle cx="444.4" cy="510.6" r="2.7" fill="#FFFFFF"/>
<circle cx="444.4" cy="508.4" r="2.7" fill="#D2D2D2"/>
<circle cx="444.4" cy="505.8" r="2.7" fill="#A0A0A0"/>
<circle cx="444.4" cy="502.9" r="2.7" fill="#5F5F5F"/>
<circle cx="444.4" cy="499.9" r="2.8" fill="#000"/>
<circle cx="450.7" cy="510.6" r="2.7" fill="#FFFFFF"/>
<circle cx="450.7" cy="508.1" r="2.7" fill="#D2D2D2"/>
<circle cx="450.7" cy="505.2" r="2.7" fill="#A0A0A0"/>
<circle cx="450.7" cy="501.9" r="2.7" fill="#5F5F5F"/>
<circle cx="450.7" cy="498.7" r="2.8" fill="#000"/>
<circle cx="457.1" cy="510.1" r="2.7" fill="#FFFFFF"/>
<circle cx="457.1" cy="507.4" r="2.7" fill="#D2D2D2"/>
<circle cx="457.1" cy="501.5" r="2.7" fill="#A0A0A0"/>
<circle cx="457.1" cy="498.9" r="2.7" fill="#5F5F5F"/>
<circle cx="457.1" cy="475" r="2.8" fill="#000"/>
<circle cx="463.5" cy="510.7" r="2.7" fill="#FFFFFF"/>
<circle cx="463.5" cy="505.1" r="2.7" fill="#D2D2D2"/>
<circle cx="463.5" cy="503" r="2.7" fill="#A0A0A0"/>
<circle cx="463.5" cy="496.6" r="2.7" fill="#5F5F5F"/>
<circle cx="463.5" cy="475" r="2.8" fill="#000"/>
<circle cx="469.9" cy="510.3" r="2.7" fill="#FFFFFF"/>
<circle cx="469.9" cy="506" r="2.7" fill="#D2D2D2"/>
<circle cx="469.9" cy="502" r="2.7" fill="#A0A0A0"/>
<circle cx="469.9" cy="497.5" r="2.7" fill="#5F5F5F"/>
<circle cx="469.9" cy="473" r="2.8" fill="#000"/>
<circle cx="476.3" cy="509.9" r="2.7" fill="#FFFFFF"/>
<circle cx="476.3" cy="506.9" r="2.7" fill="#D2D2D2"/>
<circle cx="476.3" cy="501" r="2.7" fill="#A0A0A0"/>
<circle cx="476.3" cy="498.4" r="2.7" fill="#5F5F5F"/>
<circle cx="476.3" cy="477.1" r="2.8" fill="#000"/>
<circle cx="482.7" cy="510.6" r="2.7" fill="#FFFFFF"/>
<circle cx="482.7" cy="508.4" r="2.7" fill="#D2D2D2"/>
<circle cx="482.7" cy="505.8" r="2.7" fill="#A0A0A0"/>
<circle cx="482.7" cy="502.8" r="2.7" fill="#5F5F5F"/>
<circle cx="482.7" cy="499.9" r="2.8" fill="#000"/>
<circle cx="489.1" cy="510.6" r="2.7" fill="#FFFFFF"/>
<circle cx="489.1" cy="508.4" r="2.7" fill="#D2D2D2"/>
<circle cx="489.1" cy="505.8" r="2.7" fill="#A0A0A0"/>
<circle cx="489.1" cy="502.9" r="2.7" fill="#5F5F5F"/>
<circle cx="489.1" cy="500" r="2.8" fill="#000"/>
<circle cx="495.5" cy="510.6" r="2.7" fill="#FFFFFF"/>
<circle cx="495.5" cy="508.6" r="2.7" fill="#D2D2D2"/>
<circle cx="495.5" cy="506.3" r="2.7" fill="#A0A0A0"/>
<circle cx="495.5" cy="503.6" r="2.7" fill="#5F5F5F"/>
<circle cx="495.5" cy="501" r="2.8" fill="#000"/>
<circle cx="501.9" cy="510.6" r="2.7" fill="#FFFFFF"/>
<circle cx="501.9" cy="508.6" r="2.7" fill="#D2D2D2"/>
<circle cx="501.9" cy="506.3" r="2.7" fill="#A0A0A0"/>
<circle cx="501.9" cy="503.6" r="2.7" fill="#5F5F5F"/>
<circle cx="501.9" cy="501" r="2.8" fill="#000"/>
<circle cx="508.2" cy="510.6" r="2.7" fill="#FFFFFF"/>
<circle cx="508.2" cy="508.6" r="2.7" fill="#D2D2D2"/>
<circle cx="508.2" cy="506.2" r="2.7" fill="#A0A0A0"/>
<circle cx="508.2" cy="503.6" r="2.7" fill="#5F5F5F"/>
<circle cx="508.2" cy="500.9" r="2.8" fill="#000"/>
<circle cx="514.6" cy="510.6" r="2.7" fill="#FFFFFF"/>
<circle cx="514.6" cy="508" r="2.7" fill="#D2D2D2"/>
<circle cx="514.6" cy="505" r="2.7" fill="#A0A0A0"/>
<circle cx="514.6" cy="501.6" r="2.7" fill="#5F5F5F"/>
<circle cx="514.6" cy="498.2" r="2.8" fill="#000"/>
<circle cx="521" cy="510.6" r="2.7" fill="#FFFFFF"/>
<circle cx="521" cy="508.9" r="2.7" fill="#D2D2D2"/>
<circle cx="521" cy="506.8" r="2.7" fill="#A0A0A0"/>
<circle cx="521" cy="504.4" r="2.7" fill="#5F5F5F"/>
<circle cx="521" cy="502" r="2.8" fill="#000"/>
<circle cx="527.4" cy="510.6" r="2.7" fill="#FFFFFF"/>
<circle cx="527.4" cy="509.7" r="2.7" fill="#D2D2D2"/>
<circle cx="527.4" cy="508.5" r="2.7" fill="#A0A0A0"/>
<circle cx="527.4" cy="507.1" r="2.7" fill="#5F5F5F"/>
<circle cx="527.4" cy="505.7" r="2.8" fill="#000"/>
<circle cx="533.8" cy="510.6" r="2.7" fill="#FFFFFF"/>
<circle cx="533.8" cy="509.8" r="2.7" fill="#D2D2D2"/>
<circle cx="533.8" cy="508.6" r="2.7" fill="#A0A0A0"/>
<circle cx="533.8" cy="507.3" r="2.7" fill="#5F5F5F"/>
<circle cx="533.8" cy="506" r="2.8" fill="#000"/>
<circle cx="540.2" cy="510.6" r="2.7" fill="#FFFFFF"/>
<circle cx="540.2" cy="509.6" r="2.7" fill="#D2D2D2"/>
<circle cx="540.2" cy="508.2" r="2.7" fill="#A0A0A0"/>
<circle cx="540.2" cy="506.6" r="2.7" fill="#5F5F5F"/>
<circle cx="540.2" cy="505" r="2.8" fill="#000"/>
<circle cx="546.6" cy="510.6" r="2.7" fill="#FFFFFF"/>
<circle cx="546.6" cy="509.4" r="2.7" fill="#D2D2D2"/>
<circle cx="546.6" cy="507.7" r="2.7" fill="#A0A0A0"/>
<circle cx="546.6" cy="505.9" r="2.7" fill="#5F5F5F"/>
<circle cx="546.6" cy="504.1" r="2.8" fill="#000"/>
<circle cx="553" cy="510.6" r="2.7" fill="#FFFFFF"/>
<circle cx="553" cy="508.7" r="2.7" fill="#D2D2D2"/>
<circle cx="553" cy="506.5" r="2.7" fill="#A0A0A0"/>
<circle cx="553" cy="503.9" r="2.7" fill="#5F5F5F"/>
<circle cx="553" cy="501.4" r="2.8" fill="#000"/>
<circle cx="559.4" cy="510.6" r="2.7" fill="#FFFFFF"/>
<circle cx="559.4" cy="509.2" r="2.7" fill="#D2D2D2"/>
<circle cx="559.4" cy="507.3" r="2.7" fill="#A0A0A0"/>
<circle cx="559.4" cy="505.3" r="2.7" fill="#5F5F5F"/>
<circle cx="559.4" cy="503.2" r="2.8" fill="#000"/>
<circle cx="565.8" cy="510.6" r="2.7" fill="#FFFFFF"/>
<circle cx="565.8" cy="509.3" r="2.7" fill="#D2D2D2"/>
<circle cx="565.8" cy="507.7" r="2.7" fill="#A0A0A0"/>
<circle cx="565.8" cy="505.8" r="2.7" fill="#5F5F5F"/>
<circle cx="565.8" cy="504" r="2.8" fill="#000"/>
<circle cx="572.1" cy="510.6" r="2.7" fill="#FFFFFF"/>
<circle cx="572.1" cy="509.7" r="2.7" fill="#D2D2D2"/>
<circle cx="572.1" cy="508.5" r="2.7" fill="#A0A0A0"/>
<circle cx="572.1" cy="507" r="2.7" fill="#5F5F5F"/>
<circle cx="572.1" cy="505.6" r="2.8" fill="#000"/>
<circle cx="578.5" cy="510.6" r="2.7" fill="#FFFFFF"/>
<circle cx="578.5" cy="509.7" r="2.7" fill="#D2D2D2"/>
<circle cx="578.5" cy="508.5" r="2.7" fill="#A0A0A0"/>
<circle cx="578.5" cy="507" r="2.7" fill="#5F5F5F"/>
<circle cx="578.5" cy="505.6" r="2.8" fill="#000"/>
<circle cx="584.9" cy="510.6" r="2.7" fill="#FFFFFF"/>
<circle cx="584.9" cy="509.2" r="2.7" fill="#D2D2D2"/>
<circle cx="584.9" cy="507.4" r="2.7" fill="#A0A0A0"/>
<circle cx="584.9" cy="505.4" r="2.7" fill="#5F5F5F"/>
<circle cx="584.9" cy="503.4" r="2.8" fill="#000"/>
<circle cx="591.3" cy="510.6" r="2.7" fill="#FFFFFF"/>
<circle cx="591.3" cy="509.8" r="2.7" fill="#D2D2D2"/>
<circle cx="591.3" cy="508.5" r="2.7" fill="#A0A0A0"/>
<circle cx="591.3" cy="507.1" r="2.7" fill="#5F5F5F"/>
<circle cx="591.3" cy="505.7" r="2.8" fill="#000"/>
<circle cx="597.7" cy="510.6" r="2.7" fill="#FFFFFF"/>
<circle cx="597.7" cy="510.5" r="2.7" fill="#D2D2D2"/>
<circle cx="597.7" cy="510" r="2.7" fill="#A0A0A0"/>
<circle cx="597.7" cy="508.9" r="2.8" fill="#000"/>
<circle cx="604.1" cy="511" r="2.8" fill="#000"/>
<circle cx="610.5" cy="510.1" r="2.8" fill="#000"/>
<circle cx="616.9" cy="511" r="2.8" fill="#000"/>
<circle cx="623.3" cy="511" r="2.8" fill="#000"/>
<circle cx="629.7" cy="510.9" r="2.8" fill="#000"/>
<circle cx="636" cy="510.9" r="2.8" fill="#000"/>
<circle cx="642.4" cy="510.8" r="2.8" fill="#000"/>
<circle cx="648.8" cy="510.8" r="2.8" fill="#000"/>
<circle cx="655.2" cy="510.8" r="2.8" fill="#000"/>
<circle cx="661.6" cy="510.7" r="2.8" fill="#000"/>
<circle cx="668" cy="510.7" r="2.8" fill="#000"/>
<circle cx="674.4" cy="510.7" r="2.8" fill="#000"/>
<circle cx="680.8" cy="510.6" r="2.8" fill="#000"/>
<circle cx="687.2" cy="510.6" r="2.8" fill="#000"/>
<circle cx="693.6" cy="510.5" r="2.8" fill="#000"/>
<circle cx="700" cy="510.5" r="2.8" fill="#000"/>
<circle cx="706.3" cy="510.6" r="2.7" fill="#FFFFFF"/>
<circle cx="706.3" cy="510.5" r="2.7" fill="#D2D2D2"/>
<circle cx="706.3" cy="510" r="2.7" fill="#A0A0A0"/>
<circle cx="706.3" cy="509" r="2.8" fill="#000"/>
<circle cx="712.7" cy="510.6" r="2.7" fill="#FFFFFF"/>
<circle cx="712.7" cy="510.3" r="2.7" fill="#D2D2D2"/>
<circle cx="712.7" cy="509.6" r="2.7" fill="#A0A0A0"/>
<circle cx="712.7" cy="508" r="2.8" fill="#000"/>
<circle cx="719.1" cy="510.6" r="2.7" fill="#FFFFFF"/>
<circle cx="719.1" cy="510" r="2.7" fill="#D2D2D2"/>
<circle cx="719.1" cy="508.9" r="2.7" fill="#A0A0A0"/>
<circle cx="719.1" cy="507.7" r="2.7" fill="#5F5F5F"/>
<circle cx="719.1" cy="506.6" r="2.8" fill="#000"/>
<circle cx="725.5" cy="510.6" r="2.7" fill="#FFFFFF"/>
<circle cx="725.5" cy="509.6" r="2.7" fill="#D2D2D2"/>
<circle cx="725.5" cy="508.2" r="2.7" fill="#A0A0A0"/>
<circle cx="725.5" cy="506.7" r="2.7" fill="#5F5F5F"/>
<circle cx="725.5" cy="505.1" r="2.8" fill="#000"/>
<circle cx="731.9" cy="510.6" r="2.7" fill="#FFFFFF"/>
<circle cx="731.9" cy="509.6" r="2.7" fill="#D2D2D2"/>
<circle cx="731.9" cy="508.2" r="2.7" fill="#A0A0A0"/>
<circle cx="731.9" cy="506.6" r="2.7" fill="#5F5F5F"/>
<circle cx="731.9" cy="505" r="2.8" fill="#000"/>
<circle cx="738.3" cy="510.6" r="2.7" fill="#FFFFFF"/>
<circle cx="738.3" cy="509.6" r="2.7" fill="#D2D2D2"/>
<circle cx="738.3" cy="508.2" r="2.7" fill="#A0A0A0"/>
<circle cx="738.3" cy="506.6" r="2.7" fill="#5F5F5F"/>
<circle cx="738.3" cy="505.1" r="2.8" fill="#000"/>
<circle cx="744.7" cy="510.6" r="2.7" fill="#FFFFFF"/>
<circle cx="744.7" cy="510" r="2.7" fill="#D2D2D2"/>
<circle cx="744.7" cy="509.1" r="2.7" fill="#A0A0A0"/>
<circle cx="744.7" cy="508" r="2.7" fill="#5F5F5F"/>
<circle cx="744.7" cy="506.9" r="2.8" fill="#000"/>
<circle cx="751.1" cy="510.6" r="2.7" fill="#FFFFFF"/>
<circle cx="751.1" cy="510.4" r="2.7" fill="#D2D2D2"/>
<circle cx="751.1" cy="509.9" r="2.7" fill="#A0A0A0"/>
<circle cx="751.1" cy="508.6" r="2.8" fill="#000"/>
<circle cx="757.5" cy="510.8" r="2.8" fill="#000"/>
<circle cx="763.8" cy="511" r="2.8" fill="#000"/>
<circle cx="770.2" cy="511" r="2.8" fill="#000"/>
<circle cx="776.6" cy="510.1" r="2.8" fill="#000"/>
<circle cx="783" cy="510" r="2.8" fill="#000"/>
<circle cx="789.4" cy="510.9" r="2.8" fill="#000"/>
<circle cx="795.8" cy="511" r="2.8" fill="#000"/>
<circle cx="802.2" cy="511" r="2.8" fill="#000"/>
<circle cx="808.6" cy="510.8" r="2.8" fill="#000"/>
<circle cx="815" cy="510.6" r="2.7" fill="#FFFFFF"/>
<circle cx="815" cy="510.5" r="2.7" fill="#D2D2D2"/>
<circle cx="815" cy="510.1" r="2.7" fill="#A0A0A0"/>
<circle cx="815" cy="509" r="2.8" fill="#000"/>
<circle cx="821.4" cy="510.6" r="2.7" fill="#FFFFFF"/>
<circle cx="821.4" cy="509.7" r="2.7" fill="#D2D2D2"/>
<circle cx="821.4" cy="508.5" r="2.7" fill="#A0A0A0"/>
<circle cx="821.4" cy="507" r="2.7" fill="#5F5F5F"/>
<circle cx="821.4" cy="505.6" r="2.8" fill="#000"/>
<circle cx="827.8" cy="510.6" r="2.7" fill="#FFFFFF"/>
<circle cx="827.8" cy="509.8" r="2.7" fill="#D2D2D2"/>
<circle cx="827.8" cy="508.6" r="2.7" fill="#A0A0A0"/>
<circle cx="827.8" cy="507.2" r="2.7" fill="#5F5F5F"/>
<circle cx="827.8" cy="505.8" r="2.8" fill="#000"/>
<circle cx="834.1" cy="510.6" r="2.7" fill="#FFFFFF"/>
<circle cx="834.1" cy="509.8" r="2.7" fill="#D2D2D2"/>
<circle cx="834.1" cy="508.6" r="2.7" fill="#A0A0A0"/>
<circle cx="834.1" cy="507.3" r="2.7" fill="#5F5F5F"/>
<circle cx="834.1" cy="506" r="2.8" fill="#000"/>
<circle cx="840.5" cy="510.6" r="2.7" fill="#FFFFFF"/>
<circle cx="840.5" cy="509.6" r="2.7" fill="#D2D2D2"/>
<circle cx="840.5" cy="508.2" r="2.7" fill="#A0A0A0"/>
<circle cx="840.5" cy="506.7" r="2.7" fill="#5F5F5F"/>
<circle cx="840.5" cy="505.1" r="2.8" fill="#000"/>
<polyline points="349,455.4 355,452 361,451.6 374,451.6 380,453 393,455 432,455 444,456 464,457.6 476,457.4 483,459 495,460 502,462 508,459 515,458 521,462 528,475 534,466 540,472.6 547,471 553,460.4 560,462 566,469.4 572,470.6 579,470 585,465.6 592,473 598,477 604,509 610,512 617,513 623,513 630,486 636,512.6 643,513.6 668,513.6 674,512 681,506 687,508 694,495 700,482 706,480 719,482.6 726,476.6 738,476.6 745,480 751,490 758,510 764,506 770,511 777,487.6 783,494 790,513.6 796,513 802,513 808,510 815,480 821,475.6 828,474.6 834,477 841.5,476.6" fill="none" stroke="#FF9600" stroke-width="2" stroke-linejoin="round"/>
<g fill="#B22222">
<circle cx="354.9" cy="450" r="2.7"/>
<circle cx="361.3" cy="448.4" r="2.7"/>
<circle cx="367.7" cy="448.4" r="2.7"/>
<circle cx="374.1" cy="447" r="2.7"/>
<circle cx="380.4" cy="445.5" r="2.7"/>
<circle cx="386.8" cy="447.4" r="2.7"/>
<circle cx="393.2" cy="447.3" r="2.7"/>
<circle cx="399.6" cy="445.5" r="2.7"/>
<circle cx="406" cy="445.4" r="2.7"/>
<circle cx="412.4" cy="445.3" r="2.7"/>
<circle cx="418.8" cy="443.7" r="2.7"/>
<circle cx="425.2" cy="443.6" r="2.7"/>
<circle cx="431.6" cy="443.6" r="2.7"/>
<circle cx="438" cy="443.6" r="2.7"/>
<circle cx="444.4" cy="443.7" r="2.7"/>
<circle cx="450.7" cy="445.3" r="2.7"/>
<circle cx="457.1" cy="445.4" r="2.7"/>
<circle cx="463.5" cy="445.4" r="2.7"/>
<circle cx="469.9" cy="443.6" r="2.7"/>
<circle cx="476.3" cy="447.4" r="2.7"/>
<circle cx="482.7" cy="447.4" r="2.7"/>
<circle cx="489.1" cy="447.4" r="2.7"/>
<circle cx="495.5" cy="447.4" r="2.7"/>
<circle cx="501.9" cy="447.4" r="2.7"/>
<circle cx="508.2" cy="447.3" r="2.7"/>
<circle cx="514.6" cy="445.5" r="2.7"/>
<circle cx="521" cy="445.4" r="2.7"/>
<circle cx="527.4" cy="443.7" r="2.7"/>
<circle cx="533.8" cy="443.6" r="2.7"/>
<circle cx="540.2" cy="443.6" r="2.7"/>
<circle cx="546.6" cy="443.6" r="2.7"/>
<circle cx="553" cy="443.6" r="2.7"/>
<circle cx="559.4" cy="443.6" r="2.7"/>
<circle cx="565.8" cy="443.6" r="2.7"/>
<circle cx="572.1" cy="443.6" r="2.7"/>
<circle cx="578.5" cy="443.6" r="2.7"/>
<circle cx="584.9" cy="443.6" r="2.7"/>
<circle cx="591.3" cy="443.6" r="2.7"/>
<circle cx="597.7" cy="443.6" r="2.7"/>
<circle cx="604.1" cy="443.6" r="2.7"/>
<circle cx="610.5" cy="443.6" r="2.7"/>
<circle cx="616.9" cy="443.6" r="2.7"/>
<circle cx="623.3" cy="443.6" r="2.7"/>
<circle cx="629.7" cy="443.6" r="2.7"/>
<circle cx="636" cy="443.6" r="2.7"/>
<circle cx="642.4" cy="443.6" r="2.7"/>
<circle cx="648.8" cy="443.6" r="2.7"/>
<circle cx="655.2" cy="443.6" r="2.7"/>
<circle cx="661.6" cy="443.6" r="2.7"/>
<circle cx="668" cy="443.6" r="2.7"/>
<circle cx="674.4" cy="445.4" r="2.7"/>
<circle cx="700" cy="447.4" r="2.7"/>
<circle cx="706.3" cy="447.3" r="2.7"/>
<circle cx="712.7" cy="445.5" r="2.7"/>
<circle cx="719.1" cy="449.4" r="2.7"/>
<circle cx="725.5" cy="447.5" r="2.7"/>
<circle cx="731.9" cy="449.4" r="2.7"/>
<circle cx="738.3" cy="448.4" r="2.7"/>
<circle cx="744.7" cy="448.4" r="2.7"/>
<circle cx="751.1" cy="447.4" r="2.7"/>
<circle cx="757.5" cy="447.4" r="2.7"/>
<circle cx="763.8" cy="447.4" r="2.7"/>
<circle cx="770.2" cy="447.3" r="2.7"/>
<circle cx="776.6" cy="445.5" r="2.7"/>
<circle cx="783" cy="445.4" r="2.7"/>
<circle cx="789.4" cy="445.4" r="2.7"/>
<circle cx="795.8" cy="445.4" r="2.7"/>
<circle cx="802.2" cy="445.4" r="2.7"/>
<circle cx="808.6" cy="445.4" r="2.7"/>
<circle cx="815" cy="445.4" r="2.7"/>
<circle cx="821.4" cy="445.4" r="2.7"/>
<circle cx="827.8" cy="445.4" r="2.7"/>
<circle cx="834.1" cy="445.4" r="2.7"/>
<circle cx="840.5" cy="445.4" r="2.7"/>
<circle cx="349" cy="484" r="2.7"/>
<circle cx="681" cy="496" r="2.7"/>
<circle cx="687" cy="496" r="2.7"/>
<circle cx="694" cy="496" r="2.7"/>
</g>
<g stroke="#000" stroke-width="1" stroke-dasharray="2 2" shape-rendering="crispEdges">
<line x1="362.5" y1="438" x2="362.5" y2="516.5"/>
<line x1="381.5" y1="438" x2="381.5" y2="516.5"/>
<line x1="400.5" y1="438" x2="400.5" y2="516.5"/>
<line x1="419.5" y1="438" x2="419.5" y2="516.5"/>
<line x1="438.5" y1="438" x2="438.5" y2="516.5"/>
<line x1="457.5" y1="438" x2="457.5" y2="516.5"/>
<line x1="477.5" y1="438" x2="477.5" y2="516.5"/>
<line x1="496.5" y1="438" x2="496.5" y2="516.5"/>
<line x1="515.5" y1="438" x2="515.5" y2="516.5"/>
<line x1="534.5" y1="438" x2="534.5" y2="516.5"/>
<line x1="553.5" y1="438" x2="553.5" y2="516.5"/>
<line x1="572.5" y1="438" x2="572.5" y2="516.5"/>
<line x1="592.5" y1="438" x2="592.5" y2="516.5"/>
<line x1="611.5" y1="438" x2="611.5" y2="516.5"/>
<line x1="630.5" y1="438" x2="630.5" y2="516.5"/>
<line x1="649.5" y1="438" x2="649.5" y2="516.5"/>
<line x1="668.5" y1="438" x2="668.5" y2="516.5"/>
<line x1="687.5" y1="438" x2="687.5" y2="516.5"/>
<line x1="707.5" y1="438" x2="707.5" y2="516.5"/>
<line x1="726.5" y1="438" x2="726.5" y2="516.5"/>
<line x1="745.5" y1="438" x2="745.5" y2="516.5"/>
<line x1="764.5" y1="438" x2="764.5" y2="516.5"/>
<line x1="783.5" y1="438" x2="783.5" y2="516.5"/>
<line x1="802.5" y1="438" x2="802.5" y2="516.5"/>
<line x1="822.5" y1="438" x2="822.5" y2="516.5"/>
<line x1="348.5" y1="440.5" x2="841.5" y2="440.5"/>
<line x1="348.5" y1="458.5" x2="841.5" y2="458.5"/>
<line x1="348.5" y1="478.5" x2="841.5" y2="478.5"/>
<line x1="348.5" y1="497.5" x2="841.5" y2="497.5"/>
</g>
</g>
<rect x="348.5" y="438.5" width="493" height="78" fill="none" stroke="#262626" stroke-width="1" shape-rendering="crispEdges"/>
<g stroke="#000" stroke-width="1" stroke-dasharray="2 2" shape-rendering="crispEdges">
<line x1="348.5" y1="438.5" x2="348.5" y2="516.5"/>
<line x1="841.5" y1="438.5" x2="841.5" y2="516.5"/>
</g>
<clipPath id="cC"><rect x="348.5" y="525.5" width="493" height="77.5"/></clipPath>
<g clip-path="url(#cC)">
<rect x="348.5" y="525.5" width="493" height="77.5" fill="#7DBFEE" />
<rect x="386" y="525.5" width="47" height="77.5" fill="#87D7FF" />
<rect x="540" y="525.5" width="46" height="77.5" fill="#87D7FF" />
<rect x="693" y="525.5" width="47" height="77.5" fill="#87D7FF" />
<polygon points="452,526 464,530 470,536 476,530 484,526 484,603 452,603" fill="#9B9B9B" />
<polygon points="348.5,603 349,534 361,526 374,533 380,551 393,534 400,545 406,535 412,533.6 419,529 432,526.6 451,527 457,532 464,554 470,582 476,566 480,546 483,534 489,535 495,526 841.5,526 841.5,603" fill="#555555" />
<polygon points="806,526 806,530 815,534 821,537 828,548 834,544 841.5,543 841.5,526" fill="#6E6E6E" />
<polygon points="348.5,603 349,600 361,597 374,596 380,598 393,586 400,595 406,597 412,602 438,602 444,600 451,598.4 457,599 464,602 476,602 483,599 495,594 502,589 508,594 515,596 521,598 524,590 527,570 528,557 534,555 540,574 547,562 553,580 560,586 566,572 572,562 579,578 585,572 592,558 598,540 604,528 610,526 670,526 681,528 687,530 694,528 706,532 713,536 719,543 726,559 732,568 738,560 745,542 751,536 758,530 764,530 770,532 777,537 783,532 790,528 796,526 808,526 815,534 821,537 828,548 834,544 841.5,543 841.5,603" fill="#3A3A3A" />
<polygon points="722,526 741,526 732,529.5" fill="#87D7FF" />
<g fill="#FFB400">
<rect x="526.4" y="568" width="3.2" height="37" rx="1.6"/>
<rect x="532.4" y="597.4" width="3.2" height="7.6" rx="1.6"/>
<rect x="538.4" y="586" width="3.2" height="19" rx="1.6"/>
<rect x="545.4" y="597.4" width="3.2" height="7.6" rx="1.6"/>
<rect x="577.4" y="601" width="3.2" height="4" rx="1.6"/>
<rect x="590" y="598.6" width="3.2" height="6.4" rx="1.6"/>
<rect x="596.4" y="568" width="3.2" height="37" rx="1.6"/>
<rect x="602.4" y="549" width="3.2" height="56" rx="1.6"/>
<rect x="608.4" y="545" width="3.2" height="60" rx="1.6"/>
<rect x="615.4" y="541" width="3.2" height="64" rx="1.6"/>
<rect x="621.4" y="540.6" width="3.2" height="64.4" rx="1.6"/>
<rect x="628.4" y="556.6" width="3.2" height="48.4" rx="1.6"/>
<rect x="634.4" y="542" width="3.2" height="63" rx="1.6"/>
<rect x="640.9" y="536.6" width="3.2" height="68.4" rx="1.6"/>
<rect x="647.4" y="539.4" width="3.2" height="65.6" rx="1.6"/>
<rect x="653.4" y="539.4" width="3.2" height="65.6" rx="1.6"/>
<rect x="660.4" y="536.6" width="3.2" height="68.4" rx="1.6"/>
<rect x="666.4" y="540" width="3.2" height="65" rx="1.6"/>
<rect x="672.4" y="540" width="3.2" height="65" rx="1.6"/>
<rect x="679.4" y="551" width="3.2" height="54" rx="1.6"/>
<rect x="685.4" y="550" width="3.2" height="55" rx="1.6"/>
<rect x="692.4" y="553" width="3.2" height="52" rx="1.6"/>
<rect x="698.4" y="564" width="3.2" height="41" rx="1.6"/>
<rect x="704.4" y="569" width="3.2" height="36" rx="1.6"/>
<rect x="711.4" y="574" width="3.2" height="31" rx="1.6"/>
<rect x="717.4" y="580" width="3.2" height="25" rx="1.6"/>
<rect x="724.4" y="598" width="3.2" height="7" rx="1.6"/>
<rect x="730.4" y="600.5" width="3.2" height="4.5" rx="1.6"/>
<rect x="736.4" y="596" width="3.2" height="9" rx="1.6"/>
<rect x="743.4" y="581" width="3.2" height="24" rx="1.6"/>
<rect x="749.4" y="557" width="3.2" height="48" rx="1.6"/>
<rect x="756.4" y="547" width="3.2" height="58" rx="1.6"/>
<rect x="762.4" y="550" width="3.2" height="55" rx="1.6"/>
<rect x="768.4" y="546" width="3.2" height="59" rx="1.6"/>
<rect x="775.4" y="568" width="3.2" height="37" rx="1.6"/>
<rect x="781.4" y="554" width="3.2" height="51" rx="1.6"/>
<rect x="788.4" y="532" width="3.2" height="73" rx="1.6"/>
<rect x="794.4" y="541" width="3.2" height="64" rx="1.6"/>
<rect x="800.4" y="540" width="3.2" height="65" rx="1.6"/>
<rect x="806.4" y="548" width="3.2" height="57" rx="1.6"/>
<rect x="813.4" y="568" width="3.2" height="37" rx="1.6"/>
<rect x="819.4" y="579" width="3.2" height="26" rx="1.6"/>
<rect x="826.4" y="580" width="3.2" height="25" rx="1.6"/>
<rect x="832.4" y="573" width="3.2" height="32" rx="1.6"/>
<rect x="838.9" y="575" width="3.2" height="30" rx="1.6"/>
</g>
<polyline points="374,602 380,580 387,557.6 393,559.6 400,559.6 406,579 412,565 419,576 425,556 432,545 438,530 444,537 451,530 457,529 464,532 476,527 483,527 489,536 495,527 502,528 508,528 515,533 528,539 534,543 537,558 540,574 547,592 553,600 560,602.4 745,602 758,601 764,598 777,600 783,602 790,601 796,598 802,594 808,570 815,535 821,534 828,530 834,542 841.5,531" fill="none" stroke="#A8A8A8" stroke-width="1" />
<polyline points="349,602 355,582 361,573 368,562.4 374,567 380,559.6 387,561 393,564 400,580 406,566 412,576 419,560 425,547 432,553 438,557 444,550 451,535 457,530 464,537 470,546 476,561 483,569 489,573 495,568 502,566 508,567 515,577.4 521,573 528,564 534,560 547,551.4 553,554 560,562 572,572 585,582 592,587.4 598,585 604,583 610,577 617,575.6 623,578 630,582 636,586 643,590 649,592.4 655,594 662,594 668,595.6 674,598 681,602 687,601 694,599 700,596 706,593 713,591 719,547 726,569 732,589 738,586 745,573 751,554 758,547 764,550 770,549 777,538 783,531 790,528 796,526.5 802,526.5 808,527 815,529 821,530.6 828,533 834,531 841.5,529" fill="none" stroke="#FFFFFF" stroke-width="1.2" />
<g stroke="#000" stroke-width="1" stroke-dasharray="2 2" shape-rendering="crispEdges">
<line x1="362.5" y1="525.5" x2="362.5" y2="603"/>
<line x1="381.5" y1="525.5" x2="381.5" y2="603"/>
<line x1="400.5" y1="525.5" x2="400.5" y2="603"/>
<line x1="419.5" y1="525.5" x2="419.5" y2="603"/>
<line x1="438.5" y1="525.5" x2="438.5" y2="603"/>
<line x1="457.5" y1="525.5" x2="457.5" y2="603"/>
<line x1="477.5" y1="525.5" x2="477.5" y2="603"/>
<line x1="496.5" y1="525.5" x2="496.5" y2="603"/>
<line x1="515.5" y1="525.5" x2="515.5" y2="603"/>
<line x1="534.5" y1="525.5" x2="534.5" y2="603"/>
<line x1="553.5" y1="525.5" x2="553.5" y2="603"/>
<line x1="572.5" y1="525.5" x2="572.5" y2="603"/>
<line x1="592.5" y1="525.5" x2="592.5" y2="603"/>
<line x1="611.5" y1="525.5" x2="611.5" y2="603"/>
<line x1="630.5" y1="525.5" x2="630.5" y2="603"/>
<line x1="649.5" y1="525.5" x2="649.5" y2="603"/>
<line x1="668.5" y1="525.5" x2="668.5" y2="603"/>
<line x1="687.5" y1="525.5" x2="687.5" y2="603"/>
<line x1="707.5" y1="525.5" x2="707.5" y2="603"/>
<line x1="726.5" y1="525.5" x2="726.5" y2="603"/>
<line x1="745.5" y1="525.5" x2="745.5" y2="603"/>
<line x1="764.5" y1="525.5" x2="764.5" y2="603"/>
<line x1="783.5" y1="525.5" x2="783.5" y2="603"/>
<line x1="802.5" y1="525.5" x2="802.5" y2="603"/>
<line x1="822.5" y1="525.5" x2="822.5" y2="603"/>
<line x1="348.5" y1="527.5" x2="841.5" y2="527.5"/>
<line x1="348.5" y1="546.5" x2="841.5" y2="546.5"/>
<line x1="348.5" y1="564.5" x2="841.5" y2="564.5"/>
<line x1="348.5" y1="584.5" x2="841.5" y2="584.5"/>
</g>
</g>
<rect x="348.5" y="525.5" width="493" height="78" fill="none" stroke="#262626" stroke-width="1" shape-rendering="crispEdges"/>
<g stroke="#000" stroke-width="1" stroke-dasharray="2 2" shape-rendering="crispEdges">
<line x1="348.5" y1="525.5" x2="348.5" y2="603.5"/>
<line x1="841.5" y1="525.5" x2="841.5" y2="603.5"/>
</g>
<line x1="349" y1="603.5" x2="841" y2="603.5" stroke="#5FA8DC" stroke-width="1" shape-rendering="crispEdges"/>
<text x="4" y="0.5" font-size="11" fill="#000">p</text>
<text x="5.2" y="18.3" font-size="11" fill="#000" text-anchor="start" stroke="#000" stroke-width="0.22" textLength="59.4" lengthAdjust="spacing" >Czas lokalny</text>
<text x="5.2" y="29.7" font-size="11" fill="#000" text-anchor="start" stroke="#000" stroke-width="0.22" textLength="55.2" lengthAdjust="spacing" >(CET/CEST)</text>
<text x="5.2" y="45.8" font-size="11" fill="#A52020" text-anchor="start" stroke="#A52020" stroke-width="0.22" textLength="94.4" lengthAdjust="spacing" >Temperatura gruntu</text>
<text x="26.9" y="55.5" font-size="11" fill="#A52020" text-anchor="start" stroke="#A52020" stroke-width="0.22" textLength="39.7" lengthAdjust="spacing" >max/min</text>
<text x="5.2" y="67.5" font-size="11" fill="#000" text-anchor="start" stroke="#000" stroke-width="0.22" textLength="62.7" lengthAdjust="spacing" >Temperatura:</text>
<text x="11.9" y="79.7" font-size="11" fill="#FF0000" text-anchor="start" stroke="#FF0000" stroke-width="0.22" textLength="78" lengthAdjust="spacing" >punkt środkowy</text>
<text x="26.9" y="89.7" font-size="11" fill="#FFDCD2" text-anchor="start" stroke="#FFDCD2" stroke-width="0.22" textLength="39.7" lengthAdjust="spacing" >max/min</text>
<text x="9.4" y="101.7" font-size="11" fill="#0000FF" text-anchor="start" stroke="#0000FF" stroke-width="0.22" textLength="57.7" lengthAdjust="spacing" >odczuwana</text>
<text x="26.9" y="111.3" font-size="11" fill="#A5DCFA" text-anchor="start" stroke="#A5DCFA" stroke-width="0.22" textLength="39.7" lengthAdjust="spacing" >max/min</text>
<text x="5.6" y="123.3" font-size="11" fill="#6A5ACD" text-anchor="start" stroke="#6A5ACD" stroke-width="0.22" textLength="87.3" lengthAdjust="spacing" >Temp. punktu rosy</text>
<text x="5.6" y="140.8" font-size="11" fill="#FF0000" text-anchor="start" stroke="#FF0000" stroke-width="0.22" textLength="95.3" lengthAdjust="spacing" >Opad powyżej skali</text>
<text x="5.6" y="154.7" font-size="11" fill="#E0500F" text-anchor="start" stroke="#E0500F" stroke-width="0.22" textLength="97.8" lengthAdjust="spacing" >Wilgotność względna</text>
<text x="5.6" y="168.8" font-size="11" fill="#000" text-anchor="start" stroke="#000" stroke-width="0.22" textLength="85.6" lengthAdjust="spacing" >Wystąpienie burzy</text>
<text x="5.6" y="182.8" font-size="11" fill="#00A000" text-anchor="start" stroke="#00A000" stroke-width="0.22" textLength="63.1" lengthAdjust="spacing" >Deszcz: max</text>
<text x="48.6" y="193.3" font-size="11" fill="#00A000" text-anchor="start" stroke="#00A000" stroke-width="0.22" textLength="30.1" lengthAdjust="spacing" >średni</text>
<text x="5.6" y="204.7" font-size="11" fill="#0028C8" text-anchor="start" stroke="#0028C8" stroke-width="0.22" textLength="30.1" lengthAdjust="spacing" >Śnieg:</text>
<text x="48.1" y="204.7" font-size="11" fill="#0028C8" text-anchor="start" stroke="#0028C8" stroke-width="0.22" textLength="20.3" lengthAdjust="spacing" >max</text>
<text x="48.6" y="215.3" font-size="11" fill="#0028C8" text-anchor="start" stroke="#0028C8" stroke-width="0.22" textLength="30.1" lengthAdjust="spacing" >średni</text>
<text x="4.9" y="227.5" font-size="11" fill="#FF0000" text-anchor="start" stroke="#FF0000" stroke-width="0.22" textLength="89.7" lengthAdjust="spacing" >Wystąpienie opadu</text>
<text x="4.9" y="240.3" font-size="11" fill="#FF0000" text-anchor="start" stroke="#FF0000" stroke-width="0.22" textLength="72.7" lengthAdjust="spacing" >konwekcyjnego</text>
<text x="4.4" y="266.7" font-size="11" fill="#000" text-anchor="start" stroke="#000" stroke-width="0.22" textLength="43" lengthAdjust="spacing" >Ciśnienie</text>
<text x="4.4" y="279.7" font-size="11" fill="#000" text-anchor="start" stroke="#000" stroke-width="0.22" textLength="67.3" lengthAdjust="spacing" >zredukowane</text>
<text x="4.4" y="292.5" font-size="11" fill="#000" text-anchor="start" stroke="#000" stroke-width="0.22" textLength="88.2" lengthAdjust="spacing" >do poziomu morza</text>
<text x="4.4" y="321.7" font-size="11" fill="#000" textLength="67.7" lengthAdjust="spacing">Wiatr na <tspan style="font-family:Liberation Serif,serif;font-size:12px">10</tspan>m:</text>
<text x="9.1" y="337.8" font-size="11" fill="#FF0000" text-anchor="start" stroke="#FF0000" stroke-width="0.22" textLength="101.8" lengthAdjust="spacing" >poryw powyżej skali</text>
<text x="9.1" y="351.7" font-size="11" fill="#FF0000" text-anchor="start" stroke="#FF0000" stroke-width="0.22" textLength="95.5" lengthAdjust="spacing" >max porywy wiatru</text>
<text x="9.1" y="371.7" font-size="11" fill="#00008B" text-anchor="start" stroke="#00008B" stroke-width="0.22" textLength="79.6" lengthAdjust="spacing" >prędkość wiatru</text>
<text x="9.1" y="384.5" font-size="11" fill="#00008B" text-anchor="start" stroke="#00008B" stroke-width="0.22" textLength="89.6" lengthAdjust="spacing" >w środku obszaru</text>
<text x="9.1" y="412.5" font-size="11" fill="#00008B" text-anchor="start" stroke="#00008B" stroke-width="0.22" textLength="74.3" lengthAdjust="spacing" >kierunek wiatru</text>
<text x="5.2" y="432.5" font-size="11" fill="#B22222" text-anchor="start" stroke="#B22222" stroke-width="0.22" textLength="91.9" lengthAdjust="spacing" >Wierzchołek chmur</text>
<text x="5.2" y="447.5" font-size="11" fill="#000" text-anchor="start" stroke="#000" stroke-width="0.22" textLength="86" lengthAdjust="spacing" >Podstawa chmur*</text>
<text x="5.2" y="458.3" font-size="11" fill="#000" text-anchor="start" stroke="#000" stroke-width="0.22" textLength="48.5" lengthAdjust="spacing" >o pokryciu</text>
<text x="10.2" y="471.3" font-size="11" fill="#000" text-anchor="start" stroke="#000" stroke-width="0.22" textLength="44.4" lengthAdjust="spacing" >&gt; 7.9 okt.</text>
<text x="10.2" y="482.5" font-size="11" fill="#5A5A5A" text-anchor="start" stroke="#5A5A5A" stroke-width="0.22" textLength="44.4" lengthAdjust="spacing" >&gt; 6.5 okt.</text>
<text x="10.2" y="493.3" font-size="11" fill="#A0A0A0" text-anchor="start" stroke="#A0A0A0" stroke-width="0.22" textLength="44.4" lengthAdjust="spacing" >&gt; 4.5 okt.</text>
<text x="10.2" y="503.3" font-size="11" fill="#D2D2D2" text-anchor="start" stroke="#D2D2D2" stroke-width="0.22" textLength="44.4" lengthAdjust="spacing" >&gt; 2.5 okt.</text>
<rect x="10.8" y="505.3" width="44.2" height="11.4" fill="#87CEFA" />
<text x="10.6" y="515" font-size="11" fill="#FFFFFF" text-anchor="start" stroke="#FFFFFF" stroke-width="0.22" textLength="44" lengthAdjust="spacing" >&gt; 0.1 okt.</text>
<text x="5.6" y="529.2" font-size="11" fill="#FF7F00" text-anchor="start" stroke="#FF7F00" stroke-width="0.22" textLength="57.8" lengthAdjust="spacing" >Widzialność</text>
<text x="5.2" y="546.3" font-size="11" fill="#000" text-anchor="start" stroke="#000" stroke-width="0.22" textLength="39.4" lengthAdjust="spacing" >Chmury:</text>
<rect x="10.3" y="551.7" width="40.5" height="10.8" fill="#87CEFA" />
<text x="10.7" y="559.7" font-size="11" fill="#FFFFFF" text-anchor="start" stroke="#FFFFFF" stroke-width="0.22" textLength="39.7" lengthAdjust="spacing" >wysokie</text>
<text x="9.4" y="572.5" font-size="11" fill="#A0A0A0" text-anchor="start" stroke="#A0A0A0" stroke-width="0.22" textLength="36" lengthAdjust="spacing" >średnie</text>
<text x="9.4" y="584.2" font-size="11" fill="#444444" text-anchor="start" stroke="#444444" stroke-width="0.22" textLength="26.8" lengthAdjust="spacing" >niskie</text>
<text x="9.4" y="596.3" font-size="11" fill="#000" text-anchor="start" stroke="#000" stroke-width="0.22" textLength="61.8" lengthAdjust="spacing" >bardzo niskie</text>
<text x="5.2" y="608" font-size="11" fill="#FFB400" text-anchor="start" stroke="#FFB400" stroke-width="0.22" textLength="21.4" lengthAdjust="spacing" >Mgła</text>
<text x="5.2" y="626" font-size="11" fill="#000" text-anchor="start" stroke="#000" stroke-width="0.22" textLength="132.2" lengthAdjust="spacing" >Czas uniwersalny (UTC)</text>
<text x="4.6" y="651.8" font-size="9.6" fill="#000" text-anchor="start" textLength="104" lengthAdjust="spacingAndGlyphs" stroke="#000" stroke-width="0.35">* powyżej poziomu morza</text>
<polyline points="68.3,16.5 133,16.5 155.5,45" fill="none" stroke="#000" stroke-width="1" />
<polyline points="102.5,44.5 119.2,44.5 152,91" fill="none" stroke="#A52020" stroke-width="1" />
<polyline points="92.2,76.5 115,76.5" fill="none" stroke="#FF0000" stroke-width="1" />
<polyline points="130.5,76.5 133.3,76.5 164,108" fill="none" stroke="#FF0000" stroke-width="1" />
<polyline points="70,99.5 131.7,99.5 140,103.5" fill="none" stroke="#0000FF" stroke-width="1" />
<polyline points="95.3,120.5 131,120.5 142,112.5" fill="none" stroke="#6A5ACD" stroke-width="1" />
<polyline points="103.3,137.5 141,137.5 145.8,146.5" fill="none" stroke="#FF0000" stroke-width="1" />
<polyline points="105.8,150.5 111.3,150.5" fill="none" stroke="#E0500F" stroke-width="1" />
<polyline points="130.5,150.5 147,160" fill="none" stroke="#E0500F" stroke-width="1" />
<polyline points="94.2,166.5 113.3,166.5" fill="none" stroke="#000" stroke-width="1" />
<polyline points="130.5,166.5 132,166.5 138,172" fill="none" stroke="#000" stroke-width="1" />
<polyline points="71.3,179.5 140,179.5" fill="none" stroke="#00A000" stroke-width="1" />
<polyline points="80.3,190.5 136,190.5" fill="none" stroke="#00A000" stroke-width="1" />
<polyline points="70,201.5 112.5,201.5" fill="none" stroke="#0028C8" stroke-width="1" />
<polyline points="130.5,201.5 132,200 160.5,172" fill="none" stroke="#0028C8" stroke-width="1" />
<polyline points="81.2,212.5 131,212.5 158,186" fill="none" stroke="#0028C8" stroke-width="1" />
<polyline points="97.2,225.5 143.3,225.5 148.3,219.5" fill="none" stroke="#FF0000" stroke-width="1" />
<polyline points="50.8,264.5 131.7,264.5 135,262.5" fill="none" stroke="#000" stroke-width="1" />
<polyline points="112.5,334.5 117.5,334.5" fill="none" stroke="#FF0000" stroke-width="1" />
<polyline points="130.5,334.5 132,334 139,317.5" fill="none" stroke="#FF0000" stroke-width="1" />
<polyline points="107.2,348.5 131.7,348.5 143.3,340.5" fill="none" stroke="#FF0000" stroke-width="1" />
<polyline points="92.2,367.5 135,367.5" fill="none" stroke="#00008B" stroke-width="1" />
<polyline points="86.2,410.5 140,410.5" fill="none" stroke="#00008B" stroke-width="1" />
<polyline points="100,430.5 131.7,430.5 150,435.8 183,447" fill="none" stroke="#B22222" stroke-width="1" />
<polyline points="57.2,468.5 131.7,468.5 192,456" fill="none" stroke="#000" stroke-width="1" />
<polyline points="57.2,480.5 136,480.5 143.3,481.5" fill="none" stroke="#5A5A5A" stroke-width="1" />
<polyline points="57.2,490.5 131.7,490.5 143.3,500" fill="none" stroke="#A0A0A0" stroke-width="1" />
<polyline points="57.2,500.5 130,500.5 136.7,505" fill="none" stroke="#D2D2D2" stroke-width="1" />
<polyline points="57.2,509.5 135,509.5" fill="none" stroke="#87CEFA" stroke-width="1" />
<polyline points="57.2,512.5 135,512.5" fill="none" stroke="#87CEFA" stroke-width="1" />
<polyline points="67.2,527.5 129.2,527.5 175.5,463" fill="none" stroke="#FF9900" stroke-width="1" />
<polyline points="54.2,556.5 181,556.5" fill="none" stroke="#87CEFA" stroke-width="1" />
<polyline points="54.2,558.5 181,558.5" fill="none" stroke="#87CEFA" stroke-width="1" />
<polyline points="49.2,571.5 192,571.5" fill="none" stroke="#A0A0A0" stroke-width="1" />
<polyline points="40,582.5 121.7,582.5" fill="none" stroke="#333" stroke-width="1" />
<polyline points="130.5,582.5 135,582.5" fill="none" stroke="#333" stroke-width="1" />
<polyline points="74.2,594.5 143,594.5" fill="none" stroke="#000" stroke-width="1" />
<polyline points="30.8,605.5 217,605.5 219,600" fill="none" stroke="#FFB400" stroke-width="1" />
<polyline points="139,623.5 148,623.5 157,611" fill="none" stroke="#000" stroke-width="1" />
<text x="128.8" y="63" font-size="11" fill="#000" text-anchor="end" stroke="#000" stroke-width="0.22" letter-spacing="-0.2">30</text>
<text x="128.8" y="81.4" font-size="11" fill="#000" text-anchor="end" stroke="#000" stroke-width="0.22" letter-spacing="-0.2">20</text>
<text x="128.8" y="98.4" font-size="11" fill="#000" text-anchor="end" stroke="#000" stroke-width="0.22" letter-spacing="-0.2">10</text>
<text x="128.8" y="116" font-size="11" fill="#000" text-anchor="end" stroke="#000" stroke-width="0.22" letter-spacing="-0.2">0</text>
<text x="128.8" y="133" font-size="11" fill="#000" text-anchor="end" stroke="#000" stroke-width="0.22" letter-spacing="-0.2">-10</text>
<text x="266.8" y="63" font-size="11" fill="#000" text-anchor="end" stroke="#000" stroke-width="0.22" letter-spacing="-0.2">30</text>
<text x="266.8" y="81.4" font-size="11" fill="#000" text-anchor="end" stroke="#000" stroke-width="0.22" letter-spacing="-0.2">20</text>
<text x="266.8" y="98.4" font-size="11" fill="#000" text-anchor="end" stroke="#000" stroke-width="0.22" letter-spacing="-0.2">10</text>
<text x="266.8" y="116" font-size="11" fill="#000" text-anchor="end" stroke="#000" stroke-width="0.22" letter-spacing="-0.2">0</text>
<text x="266.8" y="133" font-size="11" fill="#000" text-anchor="end" stroke="#000" stroke-width="0.22" letter-spacing="-0.2">-10</text>
<text x="128.8" y="154" font-size="11" fill="#000" text-anchor="end" stroke="#000" stroke-width="0.22" letter-spacing="-0.2">2.0</text>
<text x="128.8" y="172" font-size="11" fill="#000" text-anchor="end" stroke="#000" stroke-width="0.22" letter-spacing="-0.2">1.5</text>
<text x="128.8" y="189" font-size="11" fill="#000" text-anchor="end" stroke="#000" stroke-width="0.22" letter-spacing="-0.2">1.0</text>
<text x="128.8" y="207" font-size="11" fill="#000" text-anchor="end" stroke="#000" stroke-width="0.22" letter-spacing="-0.2">0.5</text>
<text x="128.8" y="224.3" font-size="11" fill="#000" text-anchor="end" stroke="#000" stroke-width="0.22" letter-spacing="-0.2">0.0</text>
<text x="253.5" y="154" font-size="11" fill="#E0500F" text-anchor="start" stroke="#E0500F" stroke-width="0.22" letter-spacing="-0.2">96</text>
<text x="253.5" y="172" font-size="11" fill="#E0500F" text-anchor="start" stroke="#E0500F" stroke-width="0.22" letter-spacing="-0.2">84</text>
<text x="253.5" y="189" font-size="11" fill="#E0500F" text-anchor="start" stroke="#E0500F" stroke-width="0.22" letter-spacing="-0.2">73</text>
<text x="253.5" y="207" font-size="11" fill="#E0500F" text-anchor="start" stroke="#E0500F" stroke-width="0.22" letter-spacing="-0.2">61</text>
<text x="253.5" y="224.3" font-size="11" fill="#E0500F" text-anchor="start" stroke="#E0500F" stroke-width="0.22" letter-spacing="-0.2">50</text>
<text x="128.8" y="234.8" font-size="11" fill="#000" text-anchor="end" stroke="#000" stroke-width="0.22" letter-spacing="-0.2">1018</text>
<text x="128.8" y="258.2" font-size="11" fill="#000" text-anchor="end" stroke="#000" stroke-width="0.22" letter-spacing="-0.2">1016</text>
<text x="128.8" y="281.5" font-size="11" fill="#000" text-anchor="end" stroke="#000" stroke-width="0.22" letter-spacing="-0.2">1014</text>
<text x="128.8" y="304.8" font-size="11" fill="#000" text-anchor="end" stroke="#000" stroke-width="0.22" letter-spacing="-0.2">1012</text>
<text x="252" y="234.8" font-size="11" fill="#000" text-anchor="start" stroke="#000" stroke-width="0.22" letter-spacing="-0.2">1018</text>
<text x="252" y="258.2" font-size="11" fill="#000" text-anchor="start" stroke="#000" stroke-width="0.22" letter-spacing="-0.2">1016</text>
<text x="252" y="281.5" font-size="11" fill="#000" text-anchor="start" stroke="#000" stroke-width="0.22" letter-spacing="-0.2">1014</text>
<text x="252" y="304.8" font-size="11" fill="#000" text-anchor="start" stroke="#000" stroke-width="0.22" letter-spacing="-0.2">1012</text>
<text x="128.8" y="319.5" font-size="11" fill="#000" text-anchor="end" stroke="#000" stroke-width="0.22" letter-spacing="-0.2">20</text>
<text x="128.8" y="338.2" font-size="11" fill="#000" text-anchor="end" stroke="#000" stroke-width="0.22" letter-spacing="-0.2">15</text>
<text x="128.8" y="358" font-size="11" fill="#000" text-anchor="end" stroke="#000" stroke-width="0.22" letter-spacing="-0.2">10</text>
<text x="128.8" y="376.8" font-size="11" fill="#000" text-anchor="end" stroke="#000" stroke-width="0.22" letter-spacing="-0.2">5</text>
<text x="128.8" y="395.7" font-size="11" fill="#000" text-anchor="end" stroke="#000" stroke-width="0.22" letter-spacing="-0.2">0</text>
<text x="257.3" y="319.5" font-size="11" fill="#000" text-anchor="middle" stroke="#000" stroke-width="0.22" letter-spacing="-0.2">72</text>
<text x="257.3" y="338.2" font-size="11" fill="#000" text-anchor="middle" stroke="#000" stroke-width="0.22" letter-spacing="-0.2">54</text>
<text x="257.3" y="358" font-size="11" fill="#000" text-anchor="middle" stroke="#000" stroke-width="0.22" letter-spacing="-0.2">36</text>
<text x="257.3" y="376.8" font-size="11" fill="#000" text-anchor="middle" stroke="#000" stroke-width="0.22" letter-spacing="-0.2">18</text>
<text x="257.3" y="395.7" font-size="11" fill="#000" text-anchor="middle" stroke="#000" stroke-width="0.22" letter-spacing="-0.2">0</text>
<text x="128.8" y="440.2" font-size="11" fill="#000" text-anchor="end" stroke="#000" stroke-width="0.22" letter-spacing="-0.2">15.0</text>
<text x="128.8" y="460.2" font-size="11" fill="#000" text-anchor="end" stroke="#000" stroke-width="0.22" letter-spacing="-0.2">7.0</text>
<text x="128.8" y="479.3" font-size="11" fill="#000" text-anchor="end" stroke="#000" stroke-width="0.22" letter-spacing="-0.2">2.0</text>
<text x="128.8" y="499" font-size="11" fill="#000" text-anchor="end" stroke="#000" stroke-width="0.22" letter-spacing="-0.2">0.5</text>
<text x="128.8" y="518.2" font-size="11" fill="#000" text-anchor="end" stroke="#000" stroke-width="0.22" letter-spacing="-0.2">0.0</text>
<text x="252" y="439.6" font-size="11" fill="#FF8C00" text-anchor="start" stroke="#FF8C00" stroke-width="0.22" letter-spacing="-0.2">100</text>
<text x="252" y="460.4" font-size="11" fill="#FF8C00" text-anchor="start" stroke="#FF8C00" stroke-width="0.22" letter-spacing="-0.2">20</text>
<text x="252" y="479.3" font-size="11" fill="#FF8C00" text-anchor="start" stroke="#FF8C00" stroke-width="0.22" letter-spacing="-0.2">5</text>
<text x="252" y="499" font-size="11" fill="#FF8C00" text-anchor="start" stroke="#FF8C00" stroke-width="0.22" letter-spacing="-0.2">1</text>
<text x="252" y="518.2" font-size="11" fill="#FF8C00" text-anchor="start" stroke="#FF8C00" stroke-width="0.22" letter-spacing="-0.2">0</text>
<text x="128.8" y="526.5" font-size="11" fill="#000" text-anchor="end" stroke="#000" stroke-width="0.22" letter-spacing="-0.2">8</text>
<text x="128.8" y="547" font-size="11" fill="#000" text-anchor="end" stroke="#000" stroke-width="0.22" letter-spacing="-0.2">6</text>
<text x="128.8" y="566" font-size="11" fill="#000" text-anchor="end" stroke="#000" stroke-width="0.22" letter-spacing="-0.2">4</text>
<text x="128.8" y="586.2" font-size="11" fill="#000" text-anchor="end" stroke="#000" stroke-width="0.22" letter-spacing="-0.2">2</text>
<text x="128.8" y="604.8" font-size="11" fill="#000" text-anchor="end" stroke="#000" stroke-width="0.22" letter-spacing="-0.2">0</text>
<text x="252" y="526.5" font-size="11" fill="#FF8C00" text-anchor="start" stroke="#FF8C00" stroke-width="0.22" letter-spacing="-0.2">1</text>
<text x="252" y="547.2" font-size="11" fill="#FF8C00" text-anchor="start" stroke="#FF8C00" stroke-width="0.22" letter-spacing="-0.2">0.75</text>
<text x="252" y="566.2" font-size="11" fill="#FF8C00" text-anchor="start" stroke="#FF8C00" stroke-width="0.22" letter-spacing="-0.2">0.5</text>
<text x="252" y="585.8" font-size="11" fill="#FF8C00" text-anchor="start" stroke="#FF8C00" stroke-width="0.22" letter-spacing="-0.2">0.25</text>
<text x="252" y="604.8" font-size="11" fill="#FF8C00" text-anchor="start" stroke="#FF8C00" stroke-width="0.22" letter-spacing="-0.2">0</text>
<text x="164" y="51.7" font-size="12" fill="#000" text-anchor="middle" stroke="#000" stroke-width="0.22" >20</text>
<text x="204" y="51.7" font-size="12" fill="#000" text-anchor="middle" stroke="#000" stroke-width="0.22" >02</text>
<text x="244.4" y="51.7" font-size="12" fill="#000" text-anchor="middle" stroke="#000" stroke-width="0.22" >08</text>
<text x="164" y="615" font-size="12" fill="#000" text-anchor="middle" stroke="#000" stroke-width="0.22" >18</text>
<text x="204" y="615" font-size="12" fill="#000" text-anchor="middle" stroke="#000" stroke-width="0.22" >00</text>
<text x="245" y="615" font-size="12" fill="#000" text-anchor="middle" stroke="#000" stroke-width="0.22" >06</text>
<text x="290" y="12.6" font-size="12" fill="#000090" text-anchor="start" stroke="#000090" stroke-width="0.22" textLength="146.5" lengthAdjust="spacing">wschód słońca: 07:46 CET</text>
<text x="292" y="26" font-size="12" fill="#000090" text-anchor="start" stroke="#000090" stroke-width="0.22" textLength="142.5" lengthAdjust="spacing">zachód słońca: 15:12 CET</text>
<text x="595" y="12.6" font-size="12" fill="#000090" text-anchor="middle" stroke="#000090" stroke-width="0.22" >21°17'56"E, 54°2'23"N</text>
<text x="594" y="26" font-size="12" fill="#000090" text-anchor="middle" stroke="#000090" stroke-width="0.22" xml:space="preserve">(x=254,  y=354)</text>
<text x="738.3" y="12.6" font-size="12" fill="#000090" text-anchor="start" stroke="#000090" stroke-width="0.22" textLength="160.5" lengthAdjust="spacing">wysokość (min, środek, max)</text>
<text x="817.5" y="26" font-size="12" fill="#000090" text-anchor="middle" stroke="#000090" stroke-width="0.22" >80 - 120 - 182 m</text>
<text x="391" y="42" font-size="13.2" fill="#000" text-anchor="start" stroke="#000" stroke-width="0.22" textLength="56.5" lengthAdjust="spacingAndGlyphs">nie, 14.12</text>
<text x="542.5" y="42" font-size="13.2" fill="#000" text-anchor="start" stroke="#000" stroke-width="0.22" textLength="60.5" lengthAdjust="spacingAndGlyphs">pon, 15.12</text>
<text x="695.5" y="42" font-size="13.2" fill="#000" text-anchor="start" stroke="#000" stroke-width="0.22" textLength="60.5" lengthAdjust="spacingAndGlyphs">wto, 16.12</text>
<text x="306.3" y="54.8" font-size="13.2" fill="#000" text-anchor="start" stroke="#000" stroke-width="0.22" textLength="25.2" lengthAdjust="spacingAndGlyphs">CET</text>
<text x="859" y="54.8" font-size="13.2" fill="#000" text-anchor="start" stroke="#000" stroke-width="0.22" textLength="25.2" lengthAdjust="spacingAndGlyphs">CET</text>
<text x="306.3" y="616.8" font-size="13.2" fill="#000" text-anchor="start" stroke="#000" stroke-width="0.22" textLength="25.2" lengthAdjust="spacingAndGlyphs">UTC</text>
<text x="859" y="616.8" font-size="13.2" fill="#000" text-anchor="start" stroke="#000" stroke-width="0.22" textLength="25.2" lengthAdjust="spacingAndGlyphs">UTC</text>
<text x="361.5" y="54.9" font-size="13.2" fill="#000" text-anchor="middle" stroke="#000" stroke-width="0.22" textLength="14.4" lengthAdjust="spacingAndGlyphs">04</text>
<text x="361.5" y="616.8" font-size="13.2" fill="#000" text-anchor="middle" stroke="#000" stroke-width="0.22" textLength="14.4" lengthAdjust="spacingAndGlyphs">03</text>
<text x="399.8" y="54.9" font-size="13.2" fill="#000" text-anchor="middle" stroke="#000" stroke-width="0.22" textLength="14.4" lengthAdjust="spacingAndGlyphs">10</text>
<text x="399.8" y="616.8" font-size="13.2" fill="#000" text-anchor="middle" stroke="#000" stroke-width="0.22" textLength="14.4" lengthAdjust="spacingAndGlyphs">09</text>
<text x="438.2" y="54.9" font-size="13.2" fill="#000" text-anchor="middle" stroke="#000" stroke-width="0.22" textLength="14.4" lengthAdjust="spacingAndGlyphs">16</text>
<text x="438.2" y="616.8" font-size="13.2" fill="#000" text-anchor="middle" stroke="#000" stroke-width="0.22" textLength="14.4" lengthAdjust="spacingAndGlyphs">15</text>
<text x="476.5" y="54.9" font-size="13.2" fill="#000" text-anchor="middle" stroke="#000" stroke-width="0.22" textLength="14.4" lengthAdjust="spacingAndGlyphs">22</text>
<text x="476.5" y="616.8" font-size="13.2" fill="#000" text-anchor="middle" stroke="#000" stroke-width="0.22" textLength="14.4" lengthAdjust="spacingAndGlyphs">21</text>
<text x="514.9" y="54.9" font-size="13.2" fill="#000" text-anchor="middle" stroke="#000" stroke-width="0.22" textLength="14.4" lengthAdjust="spacingAndGlyphs">04</text>
<text x="514.9" y="616.8" font-size="13.2" fill="#000" text-anchor="middle" stroke="#000" stroke-width="0.22" textLength="14.4" lengthAdjust="spacingAndGlyphs">03</text>
<text x="553.2" y="54.9" font-size="13.2" fill="#000" text-anchor="middle" stroke="#000" stroke-width="0.22" textLength="14.4" lengthAdjust="spacingAndGlyphs">10</text>
<text x="553.2" y="616.8" font-size="13.2" fill="#000" text-anchor="middle" stroke="#000" stroke-width="0.22" textLength="14.4" lengthAdjust="spacingAndGlyphs">09</text>
<text x="591.5" y="54.9" font-size="13.2" fill="#000" text-anchor="middle" stroke="#000" stroke-width="0.22" textLength="14.4" lengthAdjust="spacingAndGlyphs">16</text>
<text x="591.5" y="616.8" font-size="13.2" fill="#000" text-anchor="middle" stroke="#000" stroke-width="0.22" textLength="14.4" lengthAdjust="spacingAndGlyphs">15</text>
<text x="629.9" y="54.9" font-size="13.2" fill="#000" text-anchor="middle" stroke="#000" stroke-width="0.22" textLength="14.4" lengthAdjust="spacingAndGlyphs">22</text>
<text x="629.9" y="616.8" font-size="13.2" fill="#000" text-anchor="middle" stroke="#000" stroke-width="0.22" textLength="14.4" lengthAdjust="spacingAndGlyphs">21</text>
<text x="668.2" y="54.9" font-size="13.2" fill="#000" text-anchor="middle" stroke="#000" stroke-width="0.22" textLength="14.4" lengthAdjust="spacingAndGlyphs">04</text>
<text x="668.2" y="616.8" font-size="13.2" fill="#000" text-anchor="middle" stroke="#000" stroke-width="0.22" textLength="14.4" lengthAdjust="spacingAndGlyphs">03</text>
<text x="706.6" y="54.9" font-size="13.2" fill="#000" text-anchor="middle" stroke="#000" stroke-width="0.22" textLength="14.4" lengthAdjust="spacingAndGlyphs">10</text>
<text x="706.6" y="616.8" font-size="13.2" fill="#000" text-anchor="middle" stroke="#000" stroke-width="0.22" textLength="14.4" lengthAdjust="spacingAndGlyphs">09</text>
<text x="744.9" y="54.9" font-size="13.2" fill="#000" text-anchor="middle" stroke="#000" stroke-width="0.22" textLength="14.4" lengthAdjust="spacingAndGlyphs">16</text>
<text x="744.9" y="616.8" font-size="13.2" fill="#000" text-anchor="middle" stroke="#000" stroke-width="0.22" textLength="14.4" lengthAdjust="spacingAndGlyphs">15</text>
<text x="783.2" y="54.9" font-size="13.2" fill="#000" text-anchor="middle" stroke="#000" stroke-width="0.22" textLength="14.4" lengthAdjust="spacingAndGlyphs">22</text>
<text x="783.2" y="616.8" font-size="13.2" fill="#000" text-anchor="middle" stroke="#000" stroke-width="0.22" textLength="14.4" lengthAdjust="spacingAndGlyphs">21</text>
<text x="821.6" y="54.9" font-size="13.2" fill="#000" text-anchor="middle" stroke="#000" stroke-width="0.22" textLength="14.4" lengthAdjust="spacingAndGlyphs">04</text>
<text x="821.6" y="616.8" font-size="13.2" fill="#000" text-anchor="middle" stroke="#000" stroke-width="0.22" textLength="14.4" lengthAdjust="spacingAndGlyphs">03</text>
<text x="418.6" y="630" font-size="13.2" fill="#000" text-anchor="middle" stroke="#000" stroke-width="0.22" textLength="32.5" lengthAdjust="spacingAndGlyphs">14.12</text>
<text x="572.6" y="630" font-size="13.2" fill="#000" text-anchor="middle" stroke="#000" stroke-width="0.22" textLength="32.5" lengthAdjust="spacingAndGlyphs">15.12</text>
<text x="725.6" y="630" font-size="13.2" fill="#000" text-anchor="middle" stroke="#000" stroke-width="0.22" textLength="32.5" lengthAdjust="spacingAndGlyphs">16.12</text>
<text x="344.5" y="75.9" font-size="11" fill="#000" text-anchor="end" stroke="#000" stroke-width="0.22" >5</text>
<text x="344.5" y="104.5" font-size="11" fill="#000" text-anchor="end" stroke="#000" stroke-width="0.22" >0</text>
<text x="344.5" y="134.9" font-size="11" fill="#000" text-anchor="end" stroke="#000" stroke-width="0.22" >-5</text>
<text x="344.5" y="150.5" font-size="11" fill="#000" text-anchor="end" stroke="#000" stroke-width="0.22" >5</text>
<text x="344.5" y="165.1" font-size="11" fill="#000" text-anchor="end" stroke="#000" stroke-width="0.22" >4</text>
<text x="344.5" y="179.9" font-size="11" fill="#000" text-anchor="end" stroke="#000" stroke-width="0.22" >3</text>
<text x="344.5" y="194.9" font-size="11" fill="#000" text-anchor="end" stroke="#000" stroke-width="0.22" >2</text>
<text x="344.5" y="209.9" font-size="11" fill="#000" text-anchor="end" stroke="#000" stroke-width="0.22" >1</text>
<text x="344.5" y="224.9" font-size="11" fill="#000" text-anchor="end" stroke="#000" stroke-width="0.22" >0</text>
<text x="344.5" y="235.1" font-size="11" fill="#000" text-anchor="end" stroke="#000" stroke-width="0.22" >1025</text>
<text x="344.5" y="254.5" font-size="11" fill="#000" text-anchor="end" stroke="#000" stroke-width="0.22" >1020</text>
<text x="344.5" y="275.1" font-size="11" fill="#000" text-anchor="end" stroke="#000" stroke-width="0.22" >1015</text>
<text x="344.5" y="295.5" font-size="11" fill="#000" text-anchor="end" stroke="#000" stroke-width="0.22" >1010</text>
<text x="344.5" y="323" font-size="11" fill="#000" text-anchor="end" stroke="#000" stroke-width="0.22" >15</text>
<text x="344.5" y="347.9" font-size="11" fill="#000" text-anchor="end" stroke="#000" stroke-width="0.22" >10</text>
<text x="344.5" y="373.1" font-size="11" fill="#000" text-anchor="end" stroke="#000" stroke-width="0.22" >5</text>
<text x="344.5" y="398.5" font-size="11" fill="#000" text-anchor="end" stroke="#000" stroke-width="0.22" >0</text>
<text x="344.5" y="442.5" font-size="11" fill="#000" text-anchor="end" stroke="#000" stroke-width="0.22" >15.0</text>
<text x="344.5" y="461.5" font-size="11" fill="#000" text-anchor="end" stroke="#000" stroke-width="0.22" >7.0</text>
<text x="344.5" y="481.1" font-size="11" fill="#000" text-anchor="end" stroke="#000" stroke-width="0.22" >2.0</text>
<text x="344.5" y="500.5" font-size="11" fill="#000" text-anchor="end" stroke="#000" stroke-width="0.22" >0.5</text>
<text x="344.5" y="519.9" font-size="11" fill="#000" text-anchor="end" stroke="#000" stroke-width="0.22" >0.0</text>
<text x="344.5" y="529.1" font-size="11" fill="#000" text-anchor="end" stroke="#000" stroke-width="0.22" >8</text>
<text x="344.5" y="549.1" font-size="11" fill="#000" text-anchor="end" stroke="#000" stroke-width="0.22" >6</text>
<text x="344.5" y="567.9" font-size="11" fill="#000" text-anchor="end" stroke="#000" stroke-width="0.22" >4</text>
<text x="344.5" y="587.5" font-size="11" fill="#000" text-anchor="end" stroke="#000" stroke-width="0.22" >2</text>
<text x="344.5" y="606.5" font-size="11" fill="#000" text-anchor="end" stroke="#000" stroke-width="0.22" >0</text>
<text x="857" y="75.9" font-size="11" fill="#000" text-anchor="end" stroke="#000" stroke-width="0.22" >5</text>
<text x="857" y="104.5" font-size="11" fill="#000" text-anchor="end" stroke="#000" stroke-width="0.22" >0</text>
<text x="857" y="134.9" font-size="11" fill="#000" text-anchor="end" stroke="#000" stroke-width="0.22" >-5</text>
<text x="844.4" y="150.5" font-size="11" fill="#E0500F" text-anchor="start" stroke="#E0500F" stroke-width="0.22" >100</text>
<text x="844.4" y="165.1" font-size="11" fill="#E0500F" text-anchor="start" stroke="#E0500F" stroke-width="0.22" >95</text>
<text x="844.4" y="179.9" font-size="11" fill="#E0500F" text-anchor="start" stroke="#E0500F" stroke-width="0.22" >90</text>
<text x="844.4" y="194.9" font-size="11" fill="#E0500F" text-anchor="start" stroke="#E0500F" stroke-width="0.22" >85</text>
<text x="844.4" y="209.9" font-size="11" fill="#E0500F" text-anchor="start" stroke="#E0500F" stroke-width="0.22" >80</text>
<text x="844.4" y="224.9" font-size="11" fill="#E0500F" text-anchor="start" stroke="#E0500F" stroke-width="0.22" >75</text>
<text x="844.4" y="235.1" font-size="11" fill="#000" text-anchor="start" stroke="#000" stroke-width="0.22" >769</text>
<text x="844.4" y="254.5" font-size="11" fill="#000" text-anchor="start" stroke="#000" stroke-width="0.22" >765</text>
<text x="844.4" y="275.1" font-size="11" fill="#000" text-anchor="start" stroke="#000" stroke-width="0.22" >761</text>
<text x="844.4" y="295.5" font-size="11" fill="#000" text-anchor="start" stroke="#000" stroke-width="0.22" >758</text>
<text x="844.4" y="323" font-size="11" fill="#000" text-anchor="start" stroke="#000" stroke-width="0.22" >54</text>
<text x="844.4" y="347.9" font-size="11" fill="#000" text-anchor="start" stroke="#000" stroke-width="0.22" >36</text>
<text x="844.4" y="373.1" font-size="11" fill="#000" text-anchor="start" stroke="#000" stroke-width="0.22" >18</text>
<text x="848" y="398.5" font-size="11" fill="#000" text-anchor="start" stroke="#000" stroke-width="0.22" >0</text>
<text x="844.4" y="442" font-size="11" fill="#FF8C00" text-anchor="start" stroke="#FF8C00" stroke-width="0.22" >100</text>
<text x="844.4" y="461.5" font-size="11" fill="#FF8C00" text-anchor="start" stroke="#FF8C00" stroke-width="0.22" >20</text>
<text x="844.4" y="481.1" font-size="11" fill="#FF8C00" text-anchor="start" stroke="#FF8C00" stroke-width="0.22" >5</text>
<text x="844.4" y="500.5" font-size="11" fill="#FF8C00" text-anchor="start" stroke="#FF8C00" stroke-width="0.22" >1</text>
<text x="844.4" y="519.9" font-size="11" fill="#FF8C00" text-anchor="start" stroke="#FF8C00" stroke-width="0.22" >0</text>
<text x="850" y="529.1" font-size="11" fill="#FF8C00" text-anchor="start" stroke="#FF8C00" stroke-width="0.22" >1</text>
<text x="845" y="549.1" font-size="11" fill="#FF8C00" text-anchor="start" stroke="#FF8C00" stroke-width="0.22" >0.75</text>
<text x="847.5" y="567.9" font-size="11" fill="#FF8C00" text-anchor="start" stroke="#FF8C00" stroke-width="0.22" >0.5</text>
<text x="845" y="587.5" font-size="11" fill="#FF8C00" text-anchor="start" stroke="#FF8C00" stroke-width="0.22" >0.25</text>
<text x="848" y="606.5" font-size="11" fill="#FF8C00" text-anchor="start" stroke="#FF8C00" stroke-width="0.22" >0</text>
<text transform="translate(293.8 97) rotate(-90)" font-size="12" fill="#000090" stroke="#000090" stroke-width="0.22" text-anchor="middle">temperatura</text>
<text transform="translate(305.8 97) rotate(-90)" font-size="12" fill="#000090" stroke="#000090" stroke-width="0.22" text-anchor="middle">(°C)</text>
<text transform="translate(293.8 186.5) rotate(-90)" font-size="12" fill="#000090" stroke="#000090" stroke-width="0.22" text-anchor="middle">opad</text>
<text transform="translate(305.8 185) rotate(-90)" font-size="12" fill="#000090" stroke="#000090" stroke-width="0.22" text-anchor="middle">(mm/h, kg/m²/h)</text>
<text transform="translate(293.8 272.5) rotate(-90)" font-size="12" fill="#000090" stroke="#000090" stroke-width="0.22" text-anchor="middle">ciśnienie</text>
<text transform="translate(305.8 273.5) rotate(-90)" font-size="12" fill="#000090" stroke="#000090" stroke-width="0.22" text-anchor="middle">(hPa)</text>
<text transform="translate(293.8 361.5) rotate(-90)" font-size="12" fill="#000090" stroke="#000090" stroke-width="0.22" text-anchor="middle">wiatr</text>
<text transform="translate(305.8 361.5) rotate(-90)" font-size="12" fill="#000090" stroke="#000090" stroke-width="0.22" text-anchor="middle">(m/s)</text>
<text transform="translate(293 475) rotate(-90)" font-size="12" fill="#000090" stroke="#000090" stroke-width="0.22" text-anchor="middle">pion. rozciągł. chm.</text>
<text transform="translate(305.8 474) rotate(-90)" font-size="12" fill="#000090" stroke="#000090" stroke-width="0.22" text-anchor="middle">(km)</text>
<text transform="translate(293.8 571.5) rotate(-90)" font-size="12" fill="#000090" stroke="#000090" stroke-width="0.22" text-anchor="middle">zachmurzenie</text>
<text transform="translate(305.8 563.5) rotate(-90)" font-size="12" fill="#000090" stroke="#000090" stroke-width="0.22" text-anchor="middle">(oktanty)</text>
<text transform="translate(893 97) rotate(-90)" font-size="12" fill="#000090" stroke="#000090" stroke-width="0.22" text-anchor="middle">(°C)</text>
<text transform="translate(906 97) rotate(-90)" font-size="12" fill="#000090" stroke="#000090" stroke-width="0.22" text-anchor="middle">temperatura</text>
<text transform="translate(893 186) rotate(-90)" font-size="12" fill="#000090" stroke="#000090" stroke-width="0.22" text-anchor="middle">(%)</text>
<text transform="translate(906 186) rotate(-90)" font-size="12" fill="#000090" stroke="#000090" stroke-width="0.22" text-anchor="middle">wilgotność wzgl.</text>
<text transform="translate(893 274) rotate(-90)" font-size="12" fill="#000090" stroke="#000090" stroke-width="0.22" text-anchor="middle">(mm Hg)</text>
<text transform="translate(906 272.5) rotate(-90)" font-size="12" fill="#000090" stroke="#000090" stroke-width="0.22" text-anchor="middle">ciśnienie</text>
<text transform="translate(893 361) rotate(-90)" font-size="12" fill="#000090" stroke="#000090" stroke-width="0.22" text-anchor="middle">(km/h)</text>
<text transform="translate(906 361.5) rotate(-90)" font-size="12" fill="#000090" stroke="#000090" stroke-width="0.22" text-anchor="middle">wiatr</text>
<text transform="translate(893 474) rotate(-90)" font-size="12" fill="#000090" stroke="#000090" stroke-width="0.22" text-anchor="middle">(km)</text>
<text transform="translate(906 475) rotate(-90)" font-size="12" fill="#000090" stroke="#000090" stroke-width="0.22" text-anchor="middle">widzialność</text>
<text transform="translate(893 563) rotate(-90)" font-size="12" fill="#000090" stroke="#000090" stroke-width="0.22" text-anchor="middle">(frakcja)</text>
<text transform="translate(906 563) rotate(-90)" font-size="12" fill="#000090" stroke="#000090" stroke-width="0.22" text-anchor="middle">mgła</text>
<text x="298" y="411.3" font-size="11.5" fill="#000090" text-anchor="middle" stroke="#000090" stroke-width="0.22" >N</text>
<text x="289" y="419.7" font-size="11.5" fill="#000090" text-anchor="middle" stroke="#000090" stroke-width="0.22" >W</text>
<text x="304.3" y="419.2" font-size="11.5" fill="#000090" text-anchor="middle" stroke="#000090" stroke-width="0.22" >E</text>
<text x="298.2" y="427.6" font-size="11.5" fill="#000090" text-anchor="middle" stroke="#000090" stroke-width="0.22" >S</text>
<text x="898" y="411.3" font-size="11.5" fill="#000090" text-anchor="middle" stroke="#000090" stroke-width="0.22" >N</text>
<text x="889" y="419.7" font-size="11.5" fill="#000090" text-anchor="middle" stroke="#000090" stroke-width="0.22" >W</text>
<text x="904.3" y="419.2" font-size="11.5" fill="#000090" text-anchor="middle" stroke="#000090" stroke-width="0.22" >E</text>
<text x="898.2" y="427.6" font-size="11.5" fill="#000090" text-anchor="middle" stroke="#000090" stroke-width="0.22" >S</text>
<text x="309.5" y="653" font-size="13" fill="#000090" text-anchor="start" stroke="#000090" stroke-width="0.22" >meteo@icm.edu.pl</text>
<text x="623.5" y="653" font-size="13" fill="#000090" text-anchor="start" stroke="#000090" stroke-width="0.22" >© 2007-2025 ICM, Uniwersytet Warszawski</text>
</svg></body></html>
